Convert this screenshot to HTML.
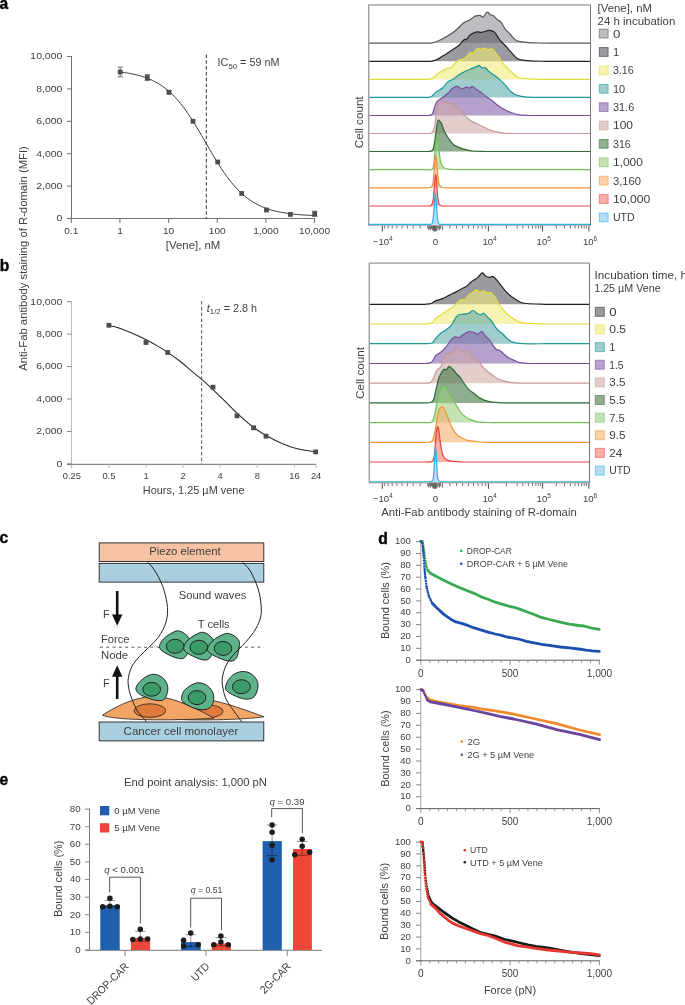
<!DOCTYPE html><html><head><meta charset="utf-8"><style>html,body{margin:0;padding:0;background:#fff;overflow:hidden}svg{display:block}text{font-family:"Liberation Sans",sans-serif}</style></head><body>
<svg width="685" height="1005" viewBox="0 0 685 1005" font-family="Liberation Sans, sans-serif" style="will-change:transform">
<rect width="685" height="1005" fill="#fff"/>
<text x="-0.40" y="8.80" font-size="15.6" font-weight="bold" fill="#000" style="stroke:#000;stroke-width:0.35">a</text>
<text x="-0.30" y="271.00" font-size="15.6" font-weight="bold" fill="#000" style="stroke:#000;stroke-width:0.35">b</text>
<text x="-0.50" y="542.80" font-size="15.6" font-weight="bold" fill="#000" style="stroke:#000;stroke-width:0.35">c</text>
<text x="378.30" y="543.70" font-size="15.6" font-weight="bold" fill="#000" style="stroke:#000;stroke-width:0.35">d</text>
<text x="-0.50" y="784.90" font-size="15.6" font-weight="bold" fill="#000" style="stroke:#000;stroke-width:0.35">e</text>
<text x="27.00" y="258.50" font-size="10.7" text-anchor="middle" textLength="224.60" lengthAdjust="spacingAndGlyphs" fill="#3e3e3e" transform="rotate(-90 27.00 258.50)">Anti-Fab antibody staining of R-domain (MFI)</text>
<line x1="71.50" y1="56.00" x2="71.50" y2="219.00" stroke="#6f6f6f" stroke-width="1" />
<line x1="67.00" y1="218.50" x2="71.50" y2="218.50" stroke="#6f6f6f" stroke-width="1" />
<text x="62.30" y="221.40" font-size="9.4" text-anchor="end" textLength="5.80" lengthAdjust="spacingAndGlyphs" fill="#3e3e3e">0</text>
<line x1="67.00" y1="186.10" x2="71.50" y2="186.10" stroke="#6f6f6f" stroke-width="1" />
<text x="62.30" y="189.00" font-size="9.4" text-anchor="end" textLength="26.11" lengthAdjust="spacingAndGlyphs" fill="#3e3e3e">2,000</text>
<line x1="67.00" y1="153.70" x2="71.50" y2="153.70" stroke="#6f6f6f" stroke-width="1" />
<text x="62.30" y="156.60" font-size="9.4" text-anchor="end" textLength="26.11" lengthAdjust="spacingAndGlyphs" fill="#3e3e3e">4,000</text>
<line x1="67.00" y1="121.30" x2="71.50" y2="121.30" stroke="#6f6f6f" stroke-width="1" />
<text x="62.30" y="124.20" font-size="9.4" text-anchor="end" textLength="26.11" lengthAdjust="spacingAndGlyphs" fill="#3e3e3e">6,000</text>
<line x1="67.00" y1="88.90" x2="71.50" y2="88.90" stroke="#6f6f6f" stroke-width="1" />
<text x="62.30" y="91.80" font-size="9.4" text-anchor="end" textLength="26.11" lengthAdjust="spacingAndGlyphs" fill="#3e3e3e">8,000</text>
<line x1="67.00" y1="56.50" x2="71.50" y2="56.50" stroke="#6f6f6f" stroke-width="1" />
<text x="62.30" y="59.40" font-size="9.4" text-anchor="end" textLength="31.91" lengthAdjust="spacingAndGlyphs" fill="#3e3e3e">10,000</text>
<line x1="71.50" y1="218.50" x2="315.00" y2="218.50" stroke="#6f6f6f" stroke-width="1" />
<line x1="71.30" y1="218.50" x2="71.30" y2="223.00" stroke="#6f6f6f" stroke-width="1" />
<text x="71.30" y="233.90" font-size="9.4" text-anchor="middle" textLength="14.11" lengthAdjust="spacingAndGlyphs" fill="#3e3e3e">0.1</text>
<line x1="119.95" y1="218.50" x2="119.95" y2="223.00" stroke="#6f6f6f" stroke-width="1" />
<text x="119.95" y="233.90" font-size="9.4" text-anchor="middle" textLength="5.65" lengthAdjust="spacingAndGlyphs" fill="#3e3e3e">1</text>
<line x1="168.60" y1="218.50" x2="168.60" y2="223.00" stroke="#6f6f6f" stroke-width="1" />
<text x="168.60" y="233.90" font-size="9.4" text-anchor="middle" textLength="11.29" lengthAdjust="spacingAndGlyphs" fill="#3e3e3e">10</text>
<line x1="217.25" y1="218.50" x2="217.25" y2="223.00" stroke="#6f6f6f" stroke-width="1" />
<text x="217.25" y="233.90" font-size="9.4" text-anchor="middle" textLength="16.94" lengthAdjust="spacingAndGlyphs" fill="#3e3e3e">100</text>
<line x1="265.90" y1="218.50" x2="265.90" y2="223.00" stroke="#6f6f6f" stroke-width="1" />
<text x="265.90" y="233.90" font-size="9.4" text-anchor="middle" textLength="25.40" lengthAdjust="spacingAndGlyphs" fill="#3e3e3e">1,000</text>
<line x1="314.55" y1="218.50" x2="314.55" y2="223.00" stroke="#6f6f6f" stroke-width="1" />
<text x="314.55" y="233.90" font-size="9.4" text-anchor="middle" textLength="31.05" lengthAdjust="spacingAndGlyphs" fill="#3e3e3e">10,000</text>
<text x="165.80" y="248.90" font-size="10.9" textLength="54.60" lengthAdjust="spacingAndGlyphs" fill="#3e3e3e">[Vene], nM</text>
<line x1="206.30" y1="54.50" x2="206.30" y2="218.50" stroke="#333" stroke-width="1" stroke-dasharray="3.6,2.2"/>
<text x="217.60" y="66.20" font-size="10.8" fill="#3e3e3e">IC<tspan font-size="7.8" dy="2.6">50</tspan><tspan dy="-2.6"> = 59 nM</tspan></text>
<polyline points="119.95,72.04 121.59,72.24 123.22,72.45 124.86,72.67 126.49,72.92 128.13,73.18 129.76,73.47 131.40,73.77 133.03,74.10 134.67,74.45 136.30,74.83 137.94,75.24 139.57,75.68 141.21,76.15 142.84,76.65 144.48,77.19 146.11,77.77 147.75,78.39 149.39,79.05 151.02,79.76 152.66,80.52 154.29,81.33 155.93,82.19 157.56,83.11 159.20,84.09 160.83,85.14 162.47,86.25 164.10,87.42 165.74,88.67 167.37,89.99 169.01,91.39 170.64,92.86 172.28,94.42 173.91,96.05 175.55,97.77 177.19,99.57 178.82,101.46 180.46,103.43 182.09,105.49 183.73,107.62 185.36,109.84 187.00,112.14 188.63,114.51 190.27,116.95 191.90,119.46 193.54,122.04 195.17,124.67 196.81,127.35 198.44,130.08 200.08,132.85 201.71,135.64 203.35,138.46 204.99,141.29 206.62,144.12 208.26,146.95 209.89,149.77 211.53,152.57 213.16,155.34 214.80,158.08 216.43,160.77 218.07,163.41 219.70,166.00 221.34,168.52 222.97,170.98 224.61,173.37 226.24,175.68 227.88,177.91 229.51,180.06 231.15,182.14 232.79,184.12 234.42,186.03 236.06,187.84 237.69,189.58 239.33,191.23 240.96,192.80 242.60,194.29 244.23,195.70 245.87,197.04 247.50,198.30 249.14,199.49 250.77,200.62 252.41,201.67 254.04,202.67 255.68,203.60 257.31,204.47 258.95,205.29 260.59,206.06 262.22,206.78 263.86,207.45 265.49,208.08 267.13,208.67 268.76,209.22 270.40,209.73 272.03,210.20 273.67,210.65 275.30,211.06 276.94,211.44 278.57,211.80 280.21,212.13 281.84,212.44 283.48,212.73 285.11,213.00 286.75,213.25 288.39,213.48 290.02,213.69 291.66,213.89 293.29,214.08 294.93,214.25 296.56,214.41 298.20,214.55 299.83,214.69 301.47,214.82 303.10,214.94 304.74,215.04 306.37,215.15 308.01,215.24 309.64,215.33 311.28,215.41 312.91,215.48 314.55,215.55" fill="none" stroke="#3a3a3a" stroke-width="1.0" />
<line x1="120.20" y1="67.20" x2="120.20" y2="76.80" stroke="#555" stroke-width="0.8" />
<line x1="117.40" y1="67.20" x2="123.00" y2="67.20" stroke="#555" stroke-width="0.8" />
<line x1="117.40" y1="76.80" x2="123.00" y2="76.80" stroke="#555" stroke-width="0.8" />
<line x1="147.30" y1="74.60" x2="147.30" y2="80.60" stroke="#555" stroke-width="0.8" />
<line x1="144.50" y1="74.60" x2="150.10" y2="74.60" stroke="#555" stroke-width="0.8" />
<line x1="144.50" y1="80.60" x2="150.10" y2="80.60" stroke="#555" stroke-width="0.8" />
<line x1="169.00" y1="90.80" x2="169.00" y2="93.80" stroke="#555" stroke-width="0.8" />
<line x1="166.20" y1="90.80" x2="171.80" y2="90.80" stroke="#555" stroke-width="0.8" />
<line x1="166.20" y1="93.80" x2="171.80" y2="93.80" stroke="#555" stroke-width="0.8" />
<line x1="314.70" y1="211.20" x2="314.70" y2="216.40" stroke="#555" stroke-width="0.8" />
<line x1="311.90" y1="211.20" x2="317.50" y2="211.20" stroke="#555" stroke-width="0.8" />
<line x1="311.90" y1="216.40" x2="317.50" y2="216.40" stroke="#555" stroke-width="0.8" />
<rect x="117.80" y="69.60" width="4.8" height="4.8" fill="#4d4d4f"/>
<rect x="144.90" y="75.20" width="4.8" height="4.8" fill="#4d4d4f"/>
<rect x="166.60" y="89.90" width="4.8" height="4.8" fill="#4d4d4f"/>
<rect x="190.60" y="118.90" width="4.8" height="4.8" fill="#4d4d4f"/>
<rect x="215.30" y="159.60" width="4.8" height="4.8" fill="#4d4d4f"/>
<rect x="239.30" y="191.10" width="4.8" height="4.8" fill="#4d4d4f"/>
<rect x="264.10" y="207.60" width="4.8" height="4.8" fill="#4d4d4f"/>
<rect x="288.00" y="212.00" width="4.8" height="4.8" fill="#4d4d4f"/>
<rect x="312.30" y="211.40" width="4.8" height="4.8" fill="#4d4d4f"/>
<line x1="71.50" y1="301.30" x2="71.50" y2="468.50" stroke="#bdbdbd" stroke-width="1" />
<line x1="67.00" y1="464.00" x2="71.50" y2="464.00" stroke="#777" stroke-width="1" />
<text x="62.30" y="466.90" font-size="9.4" text-anchor="end" textLength="5.80" lengthAdjust="spacingAndGlyphs" fill="#3e3e3e">0</text>
<line x1="67.00" y1="431.52" x2="71.50" y2="431.52" stroke="#8a8a8a" stroke-width="1" />
<text x="62.30" y="434.42" font-size="9.4" text-anchor="end" textLength="26.11" lengthAdjust="spacingAndGlyphs" fill="#3e3e3e">2,000</text>
<line x1="67.00" y1="399.04" x2="71.50" y2="399.04" stroke="#8a8a8a" stroke-width="1" />
<text x="62.30" y="401.94" font-size="9.4" text-anchor="end" textLength="26.11" lengthAdjust="spacingAndGlyphs" fill="#3e3e3e">4,000</text>
<line x1="67.00" y1="366.56" x2="71.50" y2="366.56" stroke="#8a8a8a" stroke-width="1" />
<text x="62.30" y="369.46" font-size="9.4" text-anchor="end" textLength="26.11" lengthAdjust="spacingAndGlyphs" fill="#3e3e3e">6,000</text>
<line x1="67.00" y1="334.08" x2="71.50" y2="334.08" stroke="#8a8a8a" stroke-width="1" />
<text x="62.30" y="336.98" font-size="9.4" text-anchor="end" textLength="26.11" lengthAdjust="spacingAndGlyphs" fill="#3e3e3e">8,000</text>
<line x1="67.00" y1="301.60" x2="71.50" y2="301.60" stroke="#8a8a8a" stroke-width="1" />
<text x="62.30" y="304.50" font-size="9.4" text-anchor="end" textLength="31.91" lengthAdjust="spacingAndGlyphs" fill="#3e3e3e">10,000</text>
<line x1="67.00" y1="464.30" x2="316.20" y2="464.30" stroke="#6a6a6a" stroke-width="1" />
<line x1="71.80" y1="464.50" x2="71.80" y2="468.00" stroke="#bdbdbd" stroke-width="1" />
<text x="71.80" y="478.80" font-size="9.4" text-anchor="middle" fill="#3e3e3e">0.25</text>
<line x1="108.90" y1="464.50" x2="108.90" y2="468.00" stroke="#bdbdbd" stroke-width="1" />
<text x="108.90" y="478.80" font-size="9.4" text-anchor="middle" fill="#3e3e3e">0.5</text>
<line x1="146.00" y1="464.50" x2="146.00" y2="468.00" stroke="#bdbdbd" stroke-width="1" />
<text x="146.00" y="478.80" font-size="9.4" text-anchor="middle" fill="#3e3e3e">1</text>
<line x1="183.10" y1="464.50" x2="183.10" y2="468.00" stroke="#bdbdbd" stroke-width="1" />
<text x="183.10" y="478.80" font-size="9.4" text-anchor="middle" fill="#3e3e3e">2</text>
<line x1="220.20" y1="464.50" x2="220.20" y2="468.00" stroke="#bdbdbd" stroke-width="1" />
<text x="220.20" y="478.80" font-size="9.4" text-anchor="middle" fill="#3e3e3e">4</text>
<line x1="257.30" y1="464.50" x2="257.30" y2="468.00" stroke="#bdbdbd" stroke-width="1" />
<text x="257.30" y="478.80" font-size="9.4" text-anchor="middle" fill="#3e3e3e">8</text>
<line x1="294.40" y1="464.50" x2="294.40" y2="468.00" stroke="#bdbdbd" stroke-width="1" />
<text x="294.40" y="478.80" font-size="9.4" text-anchor="middle" fill="#3e3e3e">16</text>
<line x1="316.10" y1="464.50" x2="316.10" y2="468.00" stroke="#bdbdbd" stroke-width="1" />
<text x="316.10" y="479.30" font-size="9.4" text-anchor="middle" fill="#3e3e3e">24</text>
<text x="142.80" y="494.20" font-size="10.9" textLength="101.70" lengthAdjust="spacingAndGlyphs" fill="#3e3e3e">Hours, 1.25 µM vene</text>
<line x1="201.60" y1="301.00" x2="201.60" y2="464.00" stroke="#666" stroke-width="1.1" stroke-dasharray="3.6,2.2"/>
<text x="206.80" y="311.50" font-size="10.8" fill="#3e3e3e"><tspan font-style="italic">t</tspan><tspan font-size="7.8" dy="2.6">1/2</tspan><tspan dy="-2.6"> = 2.8 h</tspan></text>
<path d="M108.90,325.30 C110.33,325.68 114.12,326.50 117.50,327.60 C120.88,328.70 125.70,330.50 129.20,331.90 C132.70,333.30 135.58,334.63 138.50,336.00 C141.42,337.37 143.77,338.58 146.70,340.10 C149.63,341.62 152.60,343.05 156.10,345.10 C159.60,347.15 163.77,349.75 167.70,352.40 C171.63,355.05 175.50,357.70 179.70,361.00 C183.90,364.30 189.22,369.13 192.90,372.20 C196.58,375.27 198.52,376.55 201.80,379.40 C205.08,382.25 208.62,385.57 212.60,389.30 C216.58,393.03 221.55,397.75 225.70,401.80 C229.85,405.85 232.85,409.32 237.50,413.60 C242.15,417.88 248.85,423.85 253.60,427.50 C258.35,431.15 261.27,432.85 266.00,435.50 C270.73,438.15 276.95,441.23 282.00,443.40 C287.05,445.57 290.68,447.08 296.30,448.50 C301.92,449.92 312.47,451.33 315.70,451.90" fill="none" stroke="#2a2a2a" stroke-width="1.1"/>
<rect x="106.50" y="322.90" width="4.8" height="4.8" fill="#4d4d4f"/>
<rect x="143.60" y="340.10" width="4.8" height="4.8" fill="#4d4d4f"/>
<rect x="165.30" y="350.10" width="4.8" height="4.8" fill="#4d4d4f"/>
<rect x="210.60" y="384.80" width="4.8" height="4.8" fill="#4d4d4f"/>
<rect x="234.60" y="413.40" width="4.8" height="4.8" fill="#4d4d4f"/>
<rect x="251.20" y="425.40" width="4.8" height="4.8" fill="#4d4d4f"/>
<rect x="263.60" y="433.80" width="4.8" height="4.8" fill="#4d4d4f"/>
<rect x="313.30" y="449.50" width="4.8" height="4.8" fill="#4d4d4f"/>
<rect x="368.8" y="4.9" width="221.70" height="220.4" fill="none" stroke="#777" stroke-width="1"/>
<line x1="368.8" y1="4.9" x2="590.5" y2="4.9" stroke="#bbb" stroke-width="1.2"/>
<path d="M430.50,43.10 C431.58,42.83 434.37,42.55 437.00,41.50 C439.63,40.45 443.30,38.55 446.30,36.80 C449.30,35.05 452.13,33.28 455.00,31.00 C457.87,28.72 461.20,24.85 463.50,23.10 C465.80,21.35 467.20,21.45 468.80,20.50 C470.40,19.55 472.02,18.13 473.10,17.40 C474.18,16.67 474.20,16.43 475.30,16.10 C476.40,15.77 478.38,15.25 479.70,15.40 C481.02,15.55 482.10,17.47 483.20,17.00 C484.30,16.53 485.50,13.40 486.30,12.60 C487.10,11.80 487.35,11.83 488.00,12.20 C488.65,12.57 489.32,14.22 490.20,14.80 C491.08,15.38 492.20,14.97 493.30,15.70 C494.40,16.43 495.57,18.18 496.80,19.20 C498.03,20.22 499.68,20.78 500.70,21.80 C501.72,22.82 502.10,23.98 502.90,25.30 C503.70,26.62 504.48,28.45 505.50,29.70 C506.52,30.95 507.83,31.57 509.00,32.80 C510.17,34.03 511.33,35.87 512.50,37.10 C513.67,38.33 514.75,39.45 516.00,40.20 C517.25,40.95 518.00,41.20 520.00,41.60 C522.00,42.00 524.67,42.37 528.00,42.60 C531.33,42.83 535.50,42.92 540.00,43.00 C544.50,43.08 552.50,43.08 555.00,43.10 Z" fill="rgb(143,145,150)" fill-opacity="0.6" stroke="none"/>
<path d="M369.30,43.10 L430.50,43.10 C431.58,42.83 434.37,42.55 437.00,41.50 C439.63,40.45 443.30,38.55 446.30,36.80 C449.30,35.05 452.13,33.28 455.00,31.00 C457.87,28.72 461.20,24.85 463.50,23.10 C465.80,21.35 467.20,21.45 468.80,20.50 C470.40,19.55 472.02,18.13 473.10,17.40 C474.18,16.67 474.20,16.43 475.30,16.10 C476.40,15.77 478.38,15.25 479.70,15.40 C481.02,15.55 482.10,17.47 483.20,17.00 C484.30,16.53 485.50,13.40 486.30,12.60 C487.10,11.80 487.35,11.83 488.00,12.20 C488.65,12.57 489.32,14.22 490.20,14.80 C491.08,15.38 492.20,14.97 493.30,15.70 C494.40,16.43 495.57,18.18 496.80,19.20 C498.03,20.22 499.68,20.78 500.70,21.80 C501.72,22.82 502.10,23.98 502.90,25.30 C503.70,26.62 504.48,28.45 505.50,29.70 C506.52,30.95 507.83,31.57 509.00,32.80 C510.17,34.03 511.33,35.87 512.50,37.10 C513.67,38.33 514.75,39.45 516.00,40.20 C517.25,40.95 518.00,41.20 520.00,41.60 C522.00,42.00 524.67,42.37 528.00,42.60 C531.33,42.83 535.50,42.92 540.00,43.00 C544.50,43.08 552.50,43.08 555.00,43.10 L590.00,43.10" fill="none" stroke="#555555" stroke-width="1.2" stroke-linejoin="round"/>
<path d="M430.50,61.30 C431.58,61.02 434.37,60.83 437.00,59.60 C439.63,58.37 443.80,55.50 446.30,53.90 C448.80,52.30 449.82,51.48 452.00,50.00 C454.18,48.52 457.48,46.63 459.40,45.00 C461.32,43.37 462.23,41.22 463.50,40.20 C464.77,39.18 465.98,39.70 467.00,38.90 C468.02,38.10 468.43,36.42 469.60,35.40 C470.77,34.38 472.68,33.38 474.00,32.80 C475.32,32.22 476.18,31.98 477.50,31.90 C478.82,31.82 480.43,32.45 481.90,32.30 C483.37,32.15 484.98,31.33 486.30,31.00 C487.62,30.67 488.48,30.15 489.80,30.30 C491.12,30.45 493.03,31.05 494.20,31.90 C495.37,32.75 495.78,33.95 496.80,35.40 C497.82,36.85 498.98,39.00 500.30,40.60 C501.62,42.20 503.25,43.47 504.70,45.00 C506.15,46.53 507.55,48.18 509.00,49.80 C510.45,51.42 512.08,53.30 513.40,54.70 C514.72,56.10 515.63,57.33 516.90,58.20 C518.17,59.07 518.82,59.45 521.00,59.90 C523.18,60.35 526.00,60.67 530.00,60.90 C534.00,61.13 542.50,61.23 545.00,61.30 Z" fill="rgb(87,88,97)" fill-opacity="0.6" stroke="none"/>
<path d="M369.30,61.30 L430.50,61.30 C431.58,61.02 434.37,60.83 437.00,59.60 C439.63,58.37 443.80,55.50 446.30,53.90 C448.80,52.30 449.82,51.48 452.00,50.00 C454.18,48.52 457.48,46.63 459.40,45.00 C461.32,43.37 462.23,41.22 463.50,40.20 C464.77,39.18 465.98,39.70 467.00,38.90 C468.02,38.10 468.43,36.42 469.60,35.40 C470.77,34.38 472.68,33.38 474.00,32.80 C475.32,32.22 476.18,31.98 477.50,31.90 C478.82,31.82 480.43,32.45 481.90,32.30 C483.37,32.15 484.98,31.33 486.30,31.00 C487.62,30.67 488.48,30.15 489.80,30.30 C491.12,30.45 493.03,31.05 494.20,31.90 C495.37,32.75 495.78,33.95 496.80,35.40 C497.82,36.85 498.98,39.00 500.30,40.60 C501.62,42.20 503.25,43.47 504.70,45.00 C506.15,46.53 507.55,48.18 509.00,49.80 C510.45,51.42 512.08,53.30 513.40,54.70 C514.72,56.10 515.63,57.33 516.90,58.20 C518.17,59.07 518.82,59.45 521.00,59.90 C523.18,60.35 526.00,60.67 530.00,60.90 C534.00,61.13 542.50,61.23 545.00,61.30 L590.00,61.30" fill="none" stroke="#222222" stroke-width="1.2" stroke-linejoin="round"/>
<path d="M429.50,79.40 C430.08,79.17 431.42,79.05 433.00,78.00 C434.58,76.95 436.83,74.63 439.00,73.10 C441.17,71.57 443.95,69.75 446.00,68.80 C448.05,67.85 449.83,68.28 451.30,67.40 C452.77,66.52 453.48,64.75 454.80,63.50 C456.12,62.25 457.60,60.72 459.20,59.90 C460.80,59.08 462.67,59.77 464.40,58.60 C466.13,57.43 468.15,53.85 469.60,52.90 C471.05,51.95 471.78,53.63 473.10,52.90 C474.42,52.17 476.18,49.08 477.50,48.50 C478.82,47.92 479.83,49.47 481.00,49.40 C482.17,49.33 483.33,48.10 484.50,48.10 C485.67,48.10 486.68,49.25 488.00,49.40 C489.32,49.55 491.23,48.57 492.40,49.00 C493.57,49.43 493.98,50.77 495.00,52.00 C496.02,53.23 497.18,54.50 498.50,56.40 C499.82,58.30 501.65,61.72 502.90,63.40 C504.15,65.08 504.97,65.47 506.00,66.50 C507.03,67.53 507.72,68.20 509.10,69.60 C510.48,71.00 512.55,73.58 514.30,74.90 C516.05,76.22 516.97,76.83 519.60,77.50 C522.23,78.17 525.87,78.58 530.10,78.90 C534.33,79.22 542.52,79.32 545.00,79.40 Z" fill="rgb(240,235,123)" fill-opacity="0.6" stroke="none"/>
<path d="M369.30,79.40 L429.50,79.40 C430.08,79.17 431.42,79.05 433.00,78.00 C434.58,76.95 436.83,74.63 439.00,73.10 C441.17,71.57 443.95,69.75 446.00,68.80 C448.05,67.85 449.83,68.28 451.30,67.40 C452.77,66.52 453.48,64.75 454.80,63.50 C456.12,62.25 457.60,60.72 459.20,59.90 C460.80,59.08 462.67,59.77 464.40,58.60 C466.13,57.43 468.15,53.85 469.60,52.90 C471.05,51.95 471.78,53.63 473.10,52.90 C474.42,52.17 476.18,49.08 477.50,48.50 C478.82,47.92 479.83,49.47 481.00,49.40 C482.17,49.33 483.33,48.10 484.50,48.10 C485.67,48.10 486.68,49.25 488.00,49.40 C489.32,49.55 491.23,48.57 492.40,49.00 C493.57,49.43 493.98,50.77 495.00,52.00 C496.02,53.23 497.18,54.50 498.50,56.40 C499.82,58.30 501.65,61.72 502.90,63.40 C504.15,65.08 504.97,65.47 506.00,66.50 C507.03,67.53 507.72,68.20 509.10,69.60 C510.48,71.00 512.55,73.58 514.30,74.90 C516.05,76.22 516.97,76.83 519.60,77.50 C522.23,78.17 525.87,78.58 530.10,78.90 C534.33,79.22 542.52,79.32 545.00,79.40 L590.00,79.40" fill="none" stroke="#e4dc38" stroke-width="1.2" stroke-linejoin="round"/>
<path d="M428.00,97.40 C428.58,97.27 430.25,97.43 431.50,96.60 C432.75,95.77 433.67,93.83 435.50,92.40 C437.33,90.97 440.45,89.75 442.50,88.00 C444.55,86.25 446.05,83.35 447.80,81.90 C449.55,80.45 451.40,80.32 453.00,79.30 C454.60,78.28 455.93,76.83 457.40,75.80 C458.87,74.77 460.20,73.98 461.80,73.10 C463.40,72.22 465.25,71.28 467.00,70.50 C468.75,69.72 470.53,69.13 472.30,68.40 C474.07,67.67 476.43,66.62 477.60,66.10 C478.77,65.58 478.58,65.00 479.30,65.30 C480.02,65.60 480.88,67.47 481.90,67.90 C482.92,68.33 484.08,67.17 485.40,67.90 C486.72,68.63 488.18,70.98 489.80,72.30 C491.42,73.62 493.35,74.50 495.10,75.80 C496.85,77.10 498.55,78.50 500.30,80.10 C502.05,81.70 503.85,83.50 505.60,85.40 C507.35,87.30 509.05,89.90 510.80,91.50 C512.55,93.10 513.75,94.12 516.10,95.00 C518.45,95.88 520.08,96.40 524.90,96.80 C529.72,97.20 541.65,97.30 545.00,97.40 Z" fill="rgb(95,170,170)" fill-opacity="0.6" stroke="none"/>
<path d="M369.30,97.40 L428.00,97.40 C428.58,97.27 430.25,97.43 431.50,96.60 C432.75,95.77 433.67,93.83 435.50,92.40 C437.33,90.97 440.45,89.75 442.50,88.00 C444.55,86.25 446.05,83.35 447.80,81.90 C449.55,80.45 451.40,80.32 453.00,79.30 C454.60,78.28 455.93,76.83 457.40,75.80 C458.87,74.77 460.20,73.98 461.80,73.10 C463.40,72.22 465.25,71.28 467.00,70.50 C468.75,69.72 470.53,69.13 472.30,68.40 C474.07,67.67 476.43,66.62 477.60,66.10 C478.77,65.58 478.58,65.00 479.30,65.30 C480.02,65.60 480.88,67.47 481.90,67.90 C482.92,68.33 484.08,67.17 485.40,67.90 C486.72,68.63 488.18,70.98 489.80,72.30 C491.42,73.62 493.35,74.50 495.10,75.80 C496.85,77.10 498.55,78.50 500.30,80.10 C502.05,81.70 503.85,83.50 505.60,85.40 C507.35,87.30 509.05,89.90 510.80,91.50 C512.55,93.10 513.75,94.12 516.10,95.00 C518.45,95.88 520.08,96.40 524.90,96.80 C529.72,97.20 541.65,97.30 545.00,97.40 L590.00,97.40" fill="none" stroke="#1a9898" stroke-width="1.2" stroke-linejoin="round"/>
<path d="M428.00,115.50 C428.67,115.30 430.90,115.67 432.00,114.30 C433.10,112.93 433.72,109.48 434.60,107.30 C435.48,105.12 435.98,102.80 437.30,101.20 C438.62,99.60 440.75,99.02 442.50,97.70 C444.25,96.38 446.05,94.92 447.80,93.30 C449.55,91.68 451.40,89.17 453.00,88.00 C454.60,86.83 455.93,86.15 457.40,86.30 C458.87,86.45 460.33,88.75 461.80,88.90 C463.27,89.05 464.88,87.35 466.20,87.20 C467.52,87.05 468.68,88.15 469.70,88.00 C470.72,87.85 471.28,86.15 472.30,86.30 C473.32,86.45 474.33,87.88 475.80,88.90 C477.27,89.92 479.35,91.08 481.10,92.40 C482.85,93.72 484.55,95.48 486.30,96.80 C488.05,98.12 489.85,98.98 491.60,100.30 C493.35,101.62 495.05,103.38 496.80,104.70 C498.55,106.02 500.05,107.03 502.10,108.20 C504.15,109.37 506.47,110.62 509.10,111.70 C511.73,112.78 514.40,114.07 517.90,114.70 C521.40,115.33 528.07,115.37 530.10,115.50 Z" fill="rgb(133,97,170)" fill-opacity="0.6" stroke="none"/>
<path d="M369.30,115.50 L428.00,115.50 C428.67,115.30 430.90,115.67 432.00,114.30 C433.10,112.93 433.72,109.48 434.60,107.30 C435.48,105.12 435.98,102.80 437.30,101.20 C438.62,99.60 440.75,99.02 442.50,97.70 C444.25,96.38 446.05,94.92 447.80,93.30 C449.55,91.68 451.40,89.17 453.00,88.00 C454.60,86.83 455.93,86.15 457.40,86.30 C458.87,86.45 460.33,88.75 461.80,88.90 C463.27,89.05 464.88,87.35 466.20,87.20 C467.52,87.05 468.68,88.15 469.70,88.00 C470.72,87.85 471.28,86.15 472.30,86.30 C473.32,86.45 474.33,87.88 475.80,88.90 C477.27,89.92 479.35,91.08 481.10,92.40 C482.85,93.72 484.55,95.48 486.30,96.80 C488.05,98.12 489.85,98.98 491.60,100.30 C493.35,101.62 495.05,103.38 496.80,104.70 C498.55,106.02 500.05,107.03 502.10,108.20 C504.15,109.37 506.47,110.62 509.10,111.70 C511.73,112.78 514.40,114.07 517.90,114.70 C521.40,115.33 528.07,115.37 530.10,115.50 L590.00,115.50" fill="none" stroke="#7a4e9d" stroke-width="1.2" stroke-linejoin="round"/>
<path d="M428.00,133.50 C428.67,133.37 430.90,133.85 432.00,132.70 C433.10,131.55 433.87,129.95 434.60,126.60 C435.33,123.25 435.82,116.25 436.40,112.60 C436.98,108.95 437.37,106.47 438.10,104.70 C438.83,102.93 439.48,102.38 440.80,102.00 C442.12,101.62 444.55,102.10 446.00,102.40 C447.45,102.70 448.62,103.72 449.50,103.80 C450.38,103.88 450.42,102.55 451.30,102.90 C452.18,103.25 453.35,104.73 454.80,105.90 C456.25,107.07 458.25,108.20 460.00,109.90 C461.75,111.60 463.55,114.35 465.30,116.10 C467.05,117.85 468.75,119.23 470.50,120.40 C472.25,121.57 474.03,122.22 475.80,123.10 C477.57,123.98 479.05,124.68 481.10,125.70 C483.15,126.72 485.77,128.23 488.10,129.20 C490.43,130.17 492.48,130.83 495.10,131.50 C497.72,132.17 500.30,132.87 503.80,133.20 C507.30,133.53 514.05,133.45 516.10,133.50 Z" fill="rgb(207,170,170)" fill-opacity="0.6" stroke="none"/>
<path d="M369.30,133.50 L428.00,133.50 C428.67,133.37 430.90,133.85 432.00,132.70 C433.10,131.55 433.87,129.95 434.60,126.60 C435.33,123.25 435.82,116.25 436.40,112.60 C436.98,108.95 437.37,106.47 438.10,104.70 C438.83,102.93 439.48,102.38 440.80,102.00 C442.12,101.62 444.55,102.10 446.00,102.40 C447.45,102.70 448.62,103.72 449.50,103.80 C450.38,103.88 450.42,102.55 451.30,102.90 C452.18,103.25 453.35,104.73 454.80,105.90 C456.25,107.07 458.25,108.20 460.00,109.90 C461.75,111.60 463.55,114.35 465.30,116.10 C467.05,117.85 468.75,119.23 470.50,120.40 C472.25,121.57 474.03,122.22 475.80,123.10 C477.57,123.98 479.05,124.68 481.10,125.70 C483.15,126.72 485.77,128.23 488.10,129.20 C490.43,130.17 492.48,130.83 495.10,131.50 C497.72,132.17 500.30,132.87 503.80,133.20 C507.30,133.53 514.05,133.45 516.10,133.50 L590.00,133.50" fill="none" stroke="#c99898" stroke-width="1.2" stroke-linejoin="round"/>
<path d="M428.00,151.50 C428.45,151.43 429.87,151.45 430.70,151.10 C431.53,150.75 432.33,151.03 433.00,149.40 C433.67,147.77 434.12,144.75 434.70,141.30 C435.28,137.85 436.02,131.93 436.50,128.70 C436.98,125.47 437.27,123.32 437.60,121.90 C437.93,120.48 438.12,120.30 438.50,120.20 C438.88,120.10 439.38,120.73 439.90,121.30 C440.42,121.87 441.03,122.37 441.60,123.60 C442.17,124.83 442.63,126.98 443.30,128.70 C443.97,130.42 444.65,132.18 445.60,133.90 C446.55,135.62 447.67,137.18 449.00,139.00 C450.33,140.82 451.87,143.37 453.60,144.80 C455.33,146.23 457.48,146.83 459.40,147.60 C461.32,148.37 462.82,148.83 465.10,149.40 C467.38,149.97 469.78,150.65 473.10,151.00 C476.42,151.35 483.02,151.42 485.00,151.50 Z" fill="rgb(68,118,68)" fill-opacity="0.6" stroke="none"/>
<path d="M369.30,151.50 L428.00,151.50 C428.45,151.43 429.87,151.45 430.70,151.10 C431.53,150.75 432.33,151.03 433.00,149.40 C433.67,147.77 434.12,144.75 434.70,141.30 C435.28,137.85 436.02,131.93 436.50,128.70 C436.98,125.47 437.27,123.32 437.60,121.90 C437.93,120.48 438.12,120.30 438.50,120.20 C438.88,120.10 439.38,120.73 439.90,121.30 C440.42,121.87 441.03,122.37 441.60,123.60 C442.17,124.83 442.63,126.98 443.30,128.70 C443.97,130.42 444.65,132.18 445.60,133.90 C446.55,135.62 447.67,137.18 449.00,139.00 C450.33,140.82 451.87,143.37 453.60,144.80 C455.33,146.23 457.48,146.83 459.40,147.60 C461.32,148.37 462.82,148.83 465.10,149.40 C467.38,149.97 469.78,150.65 473.10,151.00 C476.42,151.35 483.02,151.42 485.00,151.50 L590.00,151.50" fill="none" stroke="#2e6a34" stroke-width="1.2" stroke-linejoin="round"/>
<path d="M428.00,169.70 C428.65,169.65 430.97,170.12 431.90,169.40 C432.83,168.68 433.13,167.78 433.60,165.40 C434.07,163.02 434.32,158.73 434.70,155.10 C435.08,151.47 435.52,146.65 435.90,143.60 C436.28,140.55 436.62,137.18 437.00,136.80 C437.38,136.42 437.82,138.63 438.20,141.30 C438.58,143.97 438.83,149.17 439.30,152.80 C439.77,156.43 440.33,160.72 441.00,163.10 C441.67,165.48 442.15,166.08 443.30,167.10 C444.45,168.12 445.78,168.77 447.90,169.20 C450.02,169.63 454.65,169.62 456.00,169.70 Z" fill="rgb(157,207,130)" fill-opacity="0.6" stroke="none"/>
<path d="M369.30,169.70 L428.00,169.70 C428.65,169.65 430.97,170.12 431.90,169.40 C432.83,168.68 433.13,167.78 433.60,165.40 C434.07,163.02 434.32,158.73 434.70,155.10 C435.08,151.47 435.52,146.65 435.90,143.60 C436.28,140.55 436.62,137.18 437.00,136.80 C437.38,136.42 437.82,138.63 438.20,141.30 C438.58,143.97 438.83,149.17 439.30,152.80 C439.77,156.43 440.33,160.72 441.00,163.10 C441.67,165.48 442.15,166.08 443.30,167.10 C444.45,168.12 445.78,168.77 447.90,169.20 C450.02,169.63 454.65,169.62 456.00,169.70 L590.00,169.70" fill="none" stroke="#74c059" stroke-width="1.2" stroke-linejoin="round"/>
<path d="M428.00,187.80 C428.55,187.68 430.47,187.97 431.30,187.10 C432.13,186.23 432.52,185.45 433.00,182.60 C433.48,179.75 433.82,174.20 434.20,170.00 C434.58,165.80 434.97,159.47 435.30,157.40 C435.63,155.33 435.85,155.50 436.20,157.60 C436.55,159.70 436.98,165.83 437.40,170.00 C437.82,174.17 438.10,179.75 438.70,182.60 C439.30,185.45 439.78,186.23 441.00,187.10 C442.22,187.97 445.17,187.68 446.00,187.80 Z" fill="rgb(247,177,110)" fill-opacity="0.6" stroke="none"/>
<path d="M369.30,187.80 L428.00,187.80 C428.55,187.68 430.47,187.97 431.30,187.10 C432.13,186.23 432.52,185.45 433.00,182.60 C433.48,179.75 433.82,174.20 434.20,170.00 C434.58,165.80 434.97,159.47 435.30,157.40 C435.63,155.33 435.85,155.50 436.20,157.60 C436.55,159.70 436.98,165.83 437.40,170.00 C437.82,174.17 438.10,179.75 438.70,182.60 C439.30,185.45 439.78,186.23 441.00,187.10 C442.22,187.97 445.17,187.68 446.00,187.80 L590.00,187.80" fill="none" stroke="#f29238" stroke-width="1.2" stroke-linejoin="round"/>
<path d="M428.00,206.00 C428.55,205.92 430.47,206.35 431.30,205.50 C432.13,204.65 432.52,203.77 433.00,200.90 C433.48,198.03 433.82,192.40 434.20,188.30 C434.58,184.20 434.97,178.25 435.30,176.30 C435.63,174.35 435.85,173.83 436.20,176.60 C436.55,179.37 436.98,188.47 437.40,192.90 C437.82,197.33 438.10,201.05 438.70,203.20 C439.30,205.35 439.78,205.33 441.00,205.80 C442.22,206.27 445.17,205.97 446.00,206.00 Z" fill="rgb(240,123,110)" fill-opacity="0.6" stroke="none"/>
<path d="M369.30,206.00 L428.00,206.00 C428.55,205.92 430.47,206.35 431.30,205.50 C432.13,204.65 432.52,203.77 433.00,200.90 C433.48,198.03 433.82,192.40 434.20,188.30 C434.58,184.20 434.97,178.25 435.30,176.30 C435.63,174.35 435.85,173.83 436.20,176.60 C436.55,179.37 436.98,188.47 437.40,192.90 C437.82,197.33 438.10,201.05 438.70,203.20 C439.30,205.35 439.78,205.33 441.00,205.80 C442.22,206.27 445.17,205.97 446.00,206.00 L590.00,206.00" fill="none" stroke="#ec4242" stroke-width="1.2" stroke-linejoin="round"/>
<path d="M428.00,224.30 C428.65,224.22 431.03,224.83 431.90,223.80 C432.77,222.77 432.78,221.35 433.20,218.10 C433.62,214.85 434.05,208.42 434.40,204.30 C434.75,200.18 435.00,193.78 435.30,193.40 C435.60,193.02 435.85,198.08 436.20,202.00 C436.55,205.92 436.98,213.27 437.40,216.90 C437.82,220.53 437.93,222.57 438.70,223.80 C439.47,225.03 441.45,224.22 442.00,224.30 Z" fill="rgb(130,197,233)" fill-opacity="0.6" stroke="none"/>
<path d="M369.30,224.30 L428.00,224.30 C428.65,224.22 431.03,224.83 431.90,223.80 C432.77,222.77 432.78,221.35 433.20,218.10 C433.62,214.85 434.05,208.42 434.40,204.30 C434.75,200.18 435.00,193.78 435.30,193.40 C435.60,193.02 435.85,198.08 436.20,202.00 C436.55,205.92 436.98,213.27 437.40,216.90 C437.82,220.53 437.93,222.57 438.70,223.80 C439.47,225.03 441.45,224.22 442.00,224.30 L590.00,224.30" fill="none" stroke="#2db3e6" stroke-width="1.2" stroke-linejoin="round"/>
<line x1="368.80" y1="225.50" x2="590.50" y2="225.50" stroke="#bdb8b8" stroke-width="1.0" />
<line x1="382.30" y1="225.80" x2="382.30" y2="231.40" stroke="#333" stroke-width="0.9" />
<line x1="435.30" y1="225.80" x2="435.30" y2="231.40" stroke="#333" stroke-width="0.9" />
<line x1="488.40" y1="225.80" x2="488.40" y2="231.40" stroke="#333" stroke-width="0.9" />
<line x1="542.60" y1="225.80" x2="542.60" y2="231.40" stroke="#333" stroke-width="0.9" />
<line x1="588.90" y1="225.80" x2="588.90" y2="231.40" stroke="#333" stroke-width="0.9" />
<line x1="384.60" y1="225.80" x2="384.60" y2="228.60" stroke="#444" stroke-width="0.75" />
<line x1="388.10" y1="225.80" x2="388.10" y2="228.60" stroke="#444" stroke-width="0.75" />
<line x1="392.20" y1="225.80" x2="392.20" y2="228.60" stroke="#444" stroke-width="0.75" />
<line x1="396.90" y1="225.80" x2="396.90" y2="228.60" stroke="#444" stroke-width="0.75" />
<line x1="402.10" y1="225.80" x2="402.10" y2="228.60" stroke="#444" stroke-width="0.75" />
<line x1="407.40" y1="225.80" x2="407.40" y2="228.60" stroke="#444" stroke-width="0.75" />
<line x1="413.20" y1="225.80" x2="413.20" y2="228.60" stroke="#444" stroke-width="0.75" />
<line x1="420.20" y1="225.80" x2="420.20" y2="228.60" stroke="#444" stroke-width="0.75" />
<line x1="449.90" y1="225.80" x2="449.90" y2="228.60" stroke="#444" stroke-width="0.75" />
<line x1="456.60" y1="225.80" x2="456.60" y2="228.60" stroke="#444" stroke-width="0.75" />
<line x1="462.60" y1="225.80" x2="462.60" y2="228.60" stroke="#444" stroke-width="0.75" />
<line x1="468.40" y1="225.80" x2="468.40" y2="228.60" stroke="#444" stroke-width="0.75" />
<line x1="473.50" y1="225.80" x2="473.50" y2="228.60" stroke="#444" stroke-width="0.75" />
<line x1="478.10" y1="225.80" x2="478.10" y2="228.60" stroke="#444" stroke-width="0.75" />
<line x1="482.10" y1="225.80" x2="482.10" y2="228.60" stroke="#444" stroke-width="0.75" />
<line x1="485.60" y1="225.80" x2="485.60" y2="228.60" stroke="#444" stroke-width="0.75" />
<line x1="506.50" y1="225.80" x2="506.50" y2="228.60" stroke="#444" stroke-width="0.75" />
<line x1="517.20" y1="225.80" x2="517.20" y2="228.60" stroke="#444" stroke-width="0.75" />
<line x1="522.80" y1="225.80" x2="522.80" y2="228.60" stroke="#444" stroke-width="0.75" />
<line x1="528.40" y1="225.80" x2="528.40" y2="228.60" stroke="#444" stroke-width="0.75" />
<line x1="532.50" y1="225.80" x2="532.50" y2="228.60" stroke="#444" stroke-width="0.75" />
<line x1="535.80" y1="225.80" x2="535.80" y2="228.60" stroke="#444" stroke-width="0.75" />
<line x1="538.30" y1="225.80" x2="538.30" y2="228.60" stroke="#444" stroke-width="0.75" />
<line x1="540.70" y1="225.80" x2="540.70" y2="228.60" stroke="#444" stroke-width="0.75" />
<line x1="556.30" y1="225.80" x2="556.30" y2="228.60" stroke="#444" stroke-width="0.75" />
<line x1="564.50" y1="225.80" x2="564.50" y2="228.60" stroke="#444" stroke-width="0.75" />
<line x1="570.40" y1="225.80" x2="570.40" y2="228.60" stroke="#444" stroke-width="0.75" />
<line x1="575.00" y1="225.80" x2="575.00" y2="228.60" stroke="#444" stroke-width="0.75" />
<line x1="578.40" y1="225.80" x2="578.40" y2="228.60" stroke="#444" stroke-width="0.75" />
<line x1="581.60" y1="225.80" x2="581.60" y2="228.60" stroke="#444" stroke-width="0.75" />
<line x1="584.20" y1="225.80" x2="584.20" y2="228.60" stroke="#444" stroke-width="0.75" />
<line x1="586.40" y1="225.80" x2="586.40" y2="228.60" stroke="#444" stroke-width="0.75" />
<line x1="427.80" y1="225.80" x2="427.80" y2="228.80" stroke="#222" stroke-width="0.7" />
<line x1="428.80" y1="225.80" x2="428.80" y2="230.30" stroke="#222" stroke-width="0.7" />
<line x1="429.80" y1="225.80" x2="429.80" y2="228.80" stroke="#222" stroke-width="0.7" />
<line x1="430.70" y1="225.80" x2="430.70" y2="230.30" stroke="#222" stroke-width="0.7" />
<line x1="431.60" y1="225.80" x2="431.60" y2="228.80" stroke="#222" stroke-width="0.7" />
<line x1="432.60" y1="225.80" x2="432.60" y2="230.30" stroke="#222" stroke-width="0.7" />
<line x1="433.60" y1="225.80" x2="433.60" y2="231.30" stroke="#222" stroke-width="0.7" />
<line x1="434.40" y1="225.80" x2="434.40" y2="231.30" stroke="#222" stroke-width="0.7" />
<line x1="436.20" y1="225.80" x2="436.20" y2="231.30" stroke="#222" stroke-width="0.7" />
<line x1="437.20" y1="225.80" x2="437.20" y2="230.30" stroke="#222" stroke-width="0.7" />
<line x1="438.30" y1="225.80" x2="438.30" y2="228.80" stroke="#222" stroke-width="0.7" />
<line x1="439.40" y1="225.80" x2="439.40" y2="230.30" stroke="#222" stroke-width="0.7" />
<line x1="440.40" y1="225.80" x2="440.40" y2="228.80" stroke="#222" stroke-width="0.7" />
<line x1="442.40" y1="225.80" x2="442.40" y2="230.30" stroke="#222" stroke-width="0.7" />
<text x="372.80" y="245.00" font-size="9.6" fill="#3e3e3e">−10<tspan font-size="6.5" dy="-4">4</tspan></text>
<text x="435.30" y="245.00" font-size="9.6" text-anchor="middle" fill="#3e3e3e">0</text>
<text x="482.40" y="245.00" font-size="9.6" fill="#3e3e3e">10<tspan font-size="6.5" dy="-4">4</tspan></text>
<text x="536.60" y="245.00" font-size="9.6" fill="#3e3e3e">10<tspan font-size="6.5" dy="-4">5</tspan></text>
<text x="582.90" y="245.00" font-size="9.6" fill="#3e3e3e">10<tspan font-size="6.5" dy="-4">6</tspan></text>
<text x="363.20" y="122.30" font-size="11.2" text-anchor="middle" textLength="51.80" lengthAdjust="spacingAndGlyphs" fill="#3e3e3e" transform="rotate(-90 363.20 122.30)">Cell count</text>
<text x="597.60" y="11.60" font-size="11" textLength="54.40" lengthAdjust="spacingAndGlyphs" fill="#3e3e3e">[Vene], nM</text>
<text x="597.60" y="24.60" font-size="11" textLength="77.70" lengthAdjust="spacingAndGlyphs" fill="#3e3e3e">24 h incubation</text>
<rect x="599.30" y="29.20" width="8.80" height="8.80" fill="rgb(143,145,150)" fill-opacity="0.6" stroke="#555555" stroke-opacity="0.55" stroke-width="1"/>
<text x="613.00" y="37.50" font-size="11.3" textLength="7.40" lengthAdjust="spacingAndGlyphs" fill="#3e3e3e">0</text>
<rect x="599.30" y="47.58" width="8.80" height="8.80" fill="rgb(87,88,97)" fill-opacity="0.6" stroke="#222222" stroke-opacity="0.55" stroke-width="1"/>
<text x="613.00" y="55.88" font-size="11.3" textLength="6.20" lengthAdjust="spacingAndGlyphs" fill="#3e3e3e">1</text>
<rect x="599.30" y="65.96" width="8.80" height="8.80" fill="rgb(240,235,123)" fill-opacity="0.6" stroke="#e4dc38" stroke-opacity="0.55" stroke-width="1"/>
<text x="613.00" y="74.26" font-size="11.3" textLength="20.70" lengthAdjust="spacingAndGlyphs" fill="#3e3e3e">3.16</text>
<rect x="599.30" y="84.34" width="8.80" height="8.80" fill="rgb(95,170,170)" fill-opacity="0.6" stroke="#1a9898" stroke-opacity="0.55" stroke-width="1"/>
<text x="613.00" y="92.64" font-size="11.3" textLength="12.20" lengthAdjust="spacingAndGlyphs" fill="#3e3e3e">10</text>
<rect x="599.30" y="102.72" width="8.80" height="8.80" fill="rgb(133,97,170)" fill-opacity="0.6" stroke="#7a4e9d" stroke-opacity="0.55" stroke-width="1"/>
<text x="613.00" y="111.02" font-size="11.3" textLength="21.20" lengthAdjust="spacingAndGlyphs" fill="#3e3e3e">31.6</text>
<rect x="599.30" y="121.10" width="8.80" height="8.80" fill="rgb(207,170,170)" fill-opacity="0.6" stroke="#c99898" stroke-opacity="0.55" stroke-width="1"/>
<text x="613.00" y="129.40" font-size="11.3" textLength="20.00" lengthAdjust="spacingAndGlyphs" fill="#3e3e3e">100</text>
<rect x="599.30" y="139.48" width="8.80" height="8.80" fill="rgb(68,118,68)" fill-opacity="0.6" stroke="#2e6a34" stroke-opacity="0.55" stroke-width="1"/>
<text x="613.00" y="147.78" font-size="11.3" textLength="17.80" lengthAdjust="spacingAndGlyphs" fill="#3e3e3e">316</text>
<rect x="599.30" y="157.86" width="8.80" height="8.80" fill="rgb(157,207,130)" fill-opacity="0.6" stroke="#74c059" stroke-opacity="0.55" stroke-width="1"/>
<text x="613.00" y="166.16" font-size="11.3" textLength="29.90" lengthAdjust="spacingAndGlyphs" fill="#3e3e3e">1,000</text>
<rect x="599.30" y="176.24" width="8.80" height="8.80" fill="rgb(247,177,110)" fill-opacity="0.6" stroke="#f29238" stroke-opacity="0.55" stroke-width="1"/>
<text x="613.00" y="184.54" font-size="11.3" textLength="28.00" lengthAdjust="spacingAndGlyphs" fill="#3e3e3e">3,160</text>
<rect x="599.30" y="194.62" width="8.80" height="8.80" fill="rgb(240,123,110)" fill-opacity="0.6" stroke="#ec4242" stroke-opacity="0.55" stroke-width="1"/>
<text x="613.00" y="202.92" font-size="11.3" textLength="37.40" lengthAdjust="spacingAndGlyphs" fill="#3e3e3e">10,000</text>
<rect x="599.30" y="213.00" width="8.80" height="8.80" fill="rgb(130,197,233)" fill-opacity="0.6" stroke="#2db3e6" stroke-opacity="0.55" stroke-width="1"/>
<text x="613.00" y="221.30" font-size="11.3" textLength="21.70" lengthAdjust="spacingAndGlyphs" fill="#3e3e3e">UTD</text>
<rect x="369.2" y="263.2" width="220.30" height="219.4" fill="none" stroke="#777" stroke-width="1"/>
<line x1="368.8" y1="263.2" x2="589.5" y2="263.2" stroke="#bbb" stroke-width="1.2"/>
<path d="M425.00,304.30 C426.02,304.17 429.35,304.07 431.10,303.50 C432.85,302.93 433.60,301.72 435.50,300.90 C437.40,300.08 440.17,299.57 442.50,298.60 C444.83,297.63 447.17,296.27 449.50,295.10 C451.83,293.93 454.45,292.67 456.50,291.60 C458.55,290.53 460.05,289.63 461.80,288.70 C463.55,287.77 465.55,287.03 467.00,286.00 C468.45,284.97 469.32,283.52 470.50,282.50 C471.68,281.48 472.92,280.72 474.10,279.90 C475.28,279.08 476.43,278.62 477.60,277.60 C478.77,276.58 480.23,274.58 481.10,273.80 C481.97,273.02 482.08,272.55 482.80,272.90 C483.52,273.25 484.23,275.17 485.40,275.90 C486.57,276.63 488.63,277.22 489.80,277.30 C490.97,277.38 491.52,276.27 492.40,276.40 C493.28,276.53 494.07,277.08 495.10,278.10 C496.13,279.12 497.43,281.03 498.60,282.50 C499.77,283.97 500.65,285.15 502.10,286.90 C503.55,288.65 505.55,291.25 507.30,293.00 C509.05,294.75 510.55,295.93 512.60,297.40 C514.65,298.87 517.27,300.78 519.60,301.80 C521.93,302.82 522.37,303.08 526.60,303.50 C530.83,303.92 541.93,304.17 545.00,304.30 Z" fill="rgb(87,88,97)" fill-opacity="0.6" stroke="none"/>
<path d="M369.70,304.30 L425.00,304.30 C426.02,304.17 429.35,304.07 431.10,303.50 C432.85,302.93 433.60,301.72 435.50,300.90 C437.40,300.08 440.17,299.57 442.50,298.60 C444.83,297.63 447.17,296.27 449.50,295.10 C451.83,293.93 454.45,292.67 456.50,291.60 C458.55,290.53 460.05,289.63 461.80,288.70 C463.55,287.77 465.55,287.03 467.00,286.00 C468.45,284.97 469.32,283.52 470.50,282.50 C471.68,281.48 472.92,280.72 474.10,279.90 C475.28,279.08 476.43,278.62 477.60,277.60 C478.77,276.58 480.23,274.58 481.10,273.80 C481.97,273.02 482.08,272.55 482.80,272.90 C483.52,273.25 484.23,275.17 485.40,275.90 C486.57,276.63 488.63,277.22 489.80,277.30 C490.97,277.38 491.52,276.27 492.40,276.40 C493.28,276.53 494.07,277.08 495.10,278.10 C496.13,279.12 497.43,281.03 498.60,282.50 C499.77,283.97 500.65,285.15 502.10,286.90 C503.55,288.65 505.55,291.25 507.30,293.00 C509.05,294.75 510.55,295.93 512.60,297.40 C514.65,298.87 517.27,300.78 519.60,301.80 C521.93,302.82 522.37,303.08 526.60,303.50 C530.83,303.92 541.93,304.17 545.00,304.30 L589.00,304.30" fill="none" stroke="#222222" stroke-width="1.2" stroke-linejoin="round"/>
<path d="M425.00,324.00 C426.17,323.80 430.25,323.73 432.00,322.80 C433.75,321.87 434.03,319.72 435.50,318.40 C436.97,317.08 439.05,316.07 440.80,314.90 C442.55,313.73 444.25,312.57 446.00,311.40 C447.75,310.23 449.68,309.07 451.30,307.90 C452.92,306.73 454.25,305.72 455.70,304.40 C457.15,303.08 458.40,300.87 460.00,300.00 C461.60,299.13 463.83,300.07 465.30,299.20 C466.77,298.33 467.63,295.83 468.80,294.80 C469.97,293.77 470.98,293.88 472.30,293.00 C473.62,292.12 475.53,289.63 476.70,289.50 C477.87,289.37 478.13,291.97 479.30,292.20 C480.47,292.43 482.38,290.77 483.70,290.90 C485.02,291.03 486.03,292.70 487.20,293.00 C488.37,293.30 489.38,291.97 490.70,292.70 C492.02,293.43 493.78,295.60 495.10,297.40 C496.42,299.20 497.15,301.32 498.60,303.50 C500.05,305.68 502.05,308.45 503.80,310.50 C505.55,312.55 507.05,314.18 509.10,315.80 C511.15,317.42 513.77,319.03 516.10,320.20 C518.43,321.37 518.28,322.17 523.10,322.80 C527.92,323.43 541.35,323.80 545.00,324.00 Z" fill="rgb(240,235,123)" fill-opacity="0.6" stroke="none"/>
<path d="M369.70,324.00 L425.00,324.00 C426.17,323.80 430.25,323.73 432.00,322.80 C433.75,321.87 434.03,319.72 435.50,318.40 C436.97,317.08 439.05,316.07 440.80,314.90 C442.55,313.73 444.25,312.57 446.00,311.40 C447.75,310.23 449.68,309.07 451.30,307.90 C452.92,306.73 454.25,305.72 455.70,304.40 C457.15,303.08 458.40,300.87 460.00,300.00 C461.60,299.13 463.83,300.07 465.30,299.20 C466.77,298.33 467.63,295.83 468.80,294.80 C469.97,293.77 470.98,293.88 472.30,293.00 C473.62,292.12 475.53,289.63 476.70,289.50 C477.87,289.37 478.13,291.97 479.30,292.20 C480.47,292.43 482.38,290.77 483.70,290.90 C485.02,291.03 486.03,292.70 487.20,293.00 C488.37,293.30 489.38,291.97 490.70,292.70 C492.02,293.43 493.78,295.60 495.10,297.40 C496.42,299.20 497.15,301.32 498.60,303.50 C500.05,305.68 502.05,308.45 503.80,310.50 C505.55,312.55 507.05,314.18 509.10,315.80 C511.15,317.42 513.77,319.03 516.10,320.20 C518.43,321.37 518.28,322.17 523.10,322.80 C527.92,323.43 541.35,323.80 545.00,324.00 L589.00,324.00" fill="none" stroke="#e4dc38" stroke-width="1.2" stroke-linejoin="round"/>
<path d="M425.00,343.70 C426.17,343.58 430.25,343.85 432.00,343.00 C433.75,342.15 434.03,340.22 435.50,338.60 C436.97,336.98 439.05,334.77 440.80,333.30 C442.55,331.83 444.25,331.12 446.00,329.80 C447.75,328.48 449.83,327.15 451.30,325.40 C452.77,323.65 453.63,321.05 454.80,319.30 C455.97,317.55 456.85,315.77 458.30,314.90 C459.75,314.03 461.75,314.38 463.50,314.10 C465.25,313.82 467.18,313.80 468.80,313.20 C470.42,312.60 471.88,310.50 473.20,310.50 C474.52,310.50 475.38,312.47 476.70,313.20 C478.02,313.93 479.93,314.90 481.10,314.90 C482.27,314.90 482.53,312.75 483.70,313.20 C484.87,313.65 486.78,316.28 488.10,317.60 C489.42,318.92 490.15,319.20 491.60,321.10 C493.05,323.00 495.05,326.97 496.80,329.00 C498.55,331.03 500.35,331.70 502.10,333.30 C503.85,334.90 505.55,337.13 507.30,338.60 C509.05,340.07 509.97,341.25 512.60,342.10 C515.23,342.95 517.70,343.43 523.10,343.70 C528.50,343.97 541.35,343.70 545.00,343.70 Z" fill="rgb(95,170,170)" fill-opacity="0.6" stroke="none"/>
<path d="M369.70,343.70 L425.00,343.70 C426.17,343.58 430.25,343.85 432.00,343.00 C433.75,342.15 434.03,340.22 435.50,338.60 C436.97,336.98 439.05,334.77 440.80,333.30 C442.55,331.83 444.25,331.12 446.00,329.80 C447.75,328.48 449.83,327.15 451.30,325.40 C452.77,323.65 453.63,321.05 454.80,319.30 C455.97,317.55 456.85,315.77 458.30,314.90 C459.75,314.03 461.75,314.38 463.50,314.10 C465.25,313.82 467.18,313.80 468.80,313.20 C470.42,312.60 471.88,310.50 473.20,310.50 C474.52,310.50 475.38,312.47 476.70,313.20 C478.02,313.93 479.93,314.90 481.10,314.90 C482.27,314.90 482.53,312.75 483.70,313.20 C484.87,313.65 486.78,316.28 488.10,317.60 C489.42,318.92 490.15,319.20 491.60,321.10 C493.05,323.00 495.05,326.97 496.80,329.00 C498.55,331.03 500.35,331.70 502.10,333.30 C503.85,334.90 505.55,337.13 507.30,338.60 C509.05,340.07 509.97,341.25 512.60,342.10 C515.23,342.95 517.70,343.43 523.10,343.70 C528.50,343.97 541.35,343.70 545.00,343.70 L589.00,343.70" fill="none" stroke="#1a9898" stroke-width="1.2" stroke-linejoin="round"/>
<path d="M425.00,363.50 C425.97,363.35 429.33,363.35 430.80,362.60 C432.27,361.85 432.93,360.22 433.80,359.00 C434.67,357.78 435.03,356.28 436.00,355.30 C436.97,354.32 438.40,353.95 439.60,353.10 C440.80,352.25 441.98,351.42 443.20,350.20 C444.42,348.98 445.85,347.15 446.90,345.80 C447.95,344.45 448.57,343.32 449.50,342.10 C450.43,340.88 451.47,339.38 452.50,338.50 C453.53,337.62 454.58,336.93 455.70,336.80 C456.82,336.67 458.03,337.98 459.20,337.70 C460.37,337.42 461.10,336.12 462.70,335.10 C464.30,334.08 466.90,332.03 468.80,331.60 C470.70,331.17 472.63,332.07 474.10,332.50 C475.57,332.93 476.30,334.35 477.60,334.20 C478.90,334.05 480.60,331.30 481.90,331.60 C483.20,331.90 484.08,334.55 485.40,336.00 C486.72,337.45 488.55,338.78 489.80,340.30 C491.05,341.82 491.78,343.57 492.90,345.10 C494.02,346.63 495.40,348.65 496.50,349.50 C497.60,350.35 498.28,349.47 499.50,350.20 C500.72,350.93 502.35,352.68 503.80,353.90 C505.25,355.12 506.48,356.42 508.20,357.50 C509.92,358.58 512.15,359.55 514.10,360.40 C516.05,361.25 517.25,362.08 519.90,362.60 C522.55,363.12 528.32,363.35 530.00,363.50 Z" fill="rgb(133,97,170)" fill-opacity="0.6" stroke="none"/>
<path d="M369.70,363.50 L425.00,363.50 C425.97,363.35 429.33,363.35 430.80,362.60 C432.27,361.85 432.93,360.22 433.80,359.00 C434.67,357.78 435.03,356.28 436.00,355.30 C436.97,354.32 438.40,353.95 439.60,353.10 C440.80,352.25 441.98,351.42 443.20,350.20 C444.42,348.98 445.85,347.15 446.90,345.80 C447.95,344.45 448.57,343.32 449.50,342.10 C450.43,340.88 451.47,339.38 452.50,338.50 C453.53,337.62 454.58,336.93 455.70,336.80 C456.82,336.67 458.03,337.98 459.20,337.70 C460.37,337.42 461.10,336.12 462.70,335.10 C464.30,334.08 466.90,332.03 468.80,331.60 C470.70,331.17 472.63,332.07 474.10,332.50 C475.57,332.93 476.30,334.35 477.60,334.20 C478.90,334.05 480.60,331.30 481.90,331.60 C483.20,331.90 484.08,334.55 485.40,336.00 C486.72,337.45 488.55,338.78 489.80,340.30 C491.05,341.82 491.78,343.57 492.90,345.10 C494.02,346.63 495.40,348.65 496.50,349.50 C497.60,350.35 498.28,349.47 499.50,350.20 C500.72,350.93 502.35,352.68 503.80,353.90 C505.25,355.12 506.48,356.42 508.20,357.50 C509.92,358.58 512.15,359.55 514.10,360.40 C516.05,361.25 517.25,362.08 519.90,362.60 C522.55,363.12 528.32,363.35 530.00,363.50 L589.00,363.50" fill="none" stroke="#7a4e9d" stroke-width="1.2" stroke-linejoin="round"/>
<path d="M425.00,383.20 C425.97,383.05 429.33,383.30 430.80,382.30 C432.27,381.30 432.82,379.13 433.80,377.20 C434.78,375.27 435.48,372.52 436.70,370.70 C437.92,368.88 440.02,368.13 441.10,366.30 C442.18,364.47 442.48,361.53 443.20,359.70 C443.92,357.87 444.53,356.40 445.40,355.30 C446.27,354.20 447.18,353.58 448.40,353.10 C449.62,352.62 451.37,353.00 452.70,352.40 C454.03,351.80 455.30,350.23 456.40,349.50 C457.50,348.77 458.33,347.63 459.30,348.00 C460.27,348.37 461.23,350.97 462.20,351.70 C463.17,352.43 464.25,352.65 465.10,352.40 C465.95,352.15 466.43,349.95 467.30,350.20 C468.17,350.45 469.08,352.57 470.30,353.90 C471.52,355.23 473.15,356.87 474.60,358.20 C476.05,359.53 477.53,360.32 479.00,361.90 C480.47,363.48 481.70,365.88 483.40,367.70 C485.10,369.52 487.25,371.22 489.20,372.80 C491.15,374.38 493.15,375.98 495.10,377.20 C497.05,378.42 498.47,379.25 500.90,380.10 C503.33,380.95 505.68,381.78 509.70,382.30 C513.72,382.82 522.45,383.05 525.00,383.20 Z" fill="rgb(207,170,170)" fill-opacity="0.6" stroke="none"/>
<path d="M369.70,383.20 L425.00,383.20 C425.97,383.05 429.33,383.30 430.80,382.30 C432.27,381.30 432.82,379.13 433.80,377.20 C434.78,375.27 435.48,372.52 436.70,370.70 C437.92,368.88 440.02,368.13 441.10,366.30 C442.18,364.47 442.48,361.53 443.20,359.70 C443.92,357.87 444.53,356.40 445.40,355.30 C446.27,354.20 447.18,353.58 448.40,353.10 C449.62,352.62 451.37,353.00 452.70,352.40 C454.03,351.80 455.30,350.23 456.40,349.50 C457.50,348.77 458.33,347.63 459.30,348.00 C460.27,348.37 461.23,350.97 462.20,351.70 C463.17,352.43 464.25,352.65 465.10,352.40 C465.95,352.15 466.43,349.95 467.30,350.20 C468.17,350.45 469.08,352.57 470.30,353.90 C471.52,355.23 473.15,356.87 474.60,358.20 C476.05,359.53 477.53,360.32 479.00,361.90 C480.47,363.48 481.70,365.88 483.40,367.70 C485.10,369.52 487.25,371.22 489.20,372.80 C491.15,374.38 493.15,375.98 495.10,377.20 C497.05,378.42 498.47,379.25 500.90,380.10 C503.33,380.95 505.68,381.78 509.70,382.30 C513.72,382.82 522.45,383.05 525.00,383.20 L589.00,383.20" fill="none" stroke="#c99898" stroke-width="1.2" stroke-linejoin="round"/>
<path d="M425.00,402.90 C425.97,402.83 429.33,403.13 430.80,402.50 C432.27,401.87 432.93,401.25 433.80,399.10 C434.67,396.95 435.15,393.12 436.00,389.60 C436.85,386.08 437.93,380.92 438.90,378.00 C439.87,375.08 440.95,373.57 441.80,372.10 C442.65,370.63 443.27,369.57 444.00,369.20 C444.73,368.83 445.35,370.33 446.20,369.90 C447.05,369.47 448.02,366.72 449.10,366.60 C450.18,366.48 451.48,368.03 452.70,369.20 C453.92,370.37 455.18,372.27 456.40,373.60 C457.62,374.93 458.67,375.50 460.00,377.20 C461.33,378.90 462.93,381.73 464.40,383.80 C465.87,385.87 467.10,387.90 468.80,389.60 C470.50,391.30 472.65,392.53 474.60,394.00 C476.55,395.47 478.07,397.13 480.50,398.40 C482.93,399.67 485.80,400.85 489.20,401.60 C492.60,402.35 498.95,402.68 500.90,402.90 Z" fill="rgb(68,118,68)" fill-opacity="0.6" stroke="none"/>
<path d="M369.70,402.90 L425.00,402.90 C425.97,402.83 429.33,403.13 430.80,402.50 C432.27,401.87 432.93,401.25 433.80,399.10 C434.67,396.95 435.15,393.12 436.00,389.60 C436.85,386.08 437.93,380.92 438.90,378.00 C439.87,375.08 440.95,373.57 441.80,372.10 C442.65,370.63 443.27,369.57 444.00,369.20 C444.73,368.83 445.35,370.33 446.20,369.90 C447.05,369.47 448.02,366.72 449.10,366.60 C450.18,366.48 451.48,368.03 452.70,369.20 C453.92,370.37 455.18,372.27 456.40,373.60 C457.62,374.93 458.67,375.50 460.00,377.20 C461.33,378.90 462.93,381.73 464.40,383.80 C465.87,385.87 467.10,387.90 468.80,389.60 C470.50,391.30 472.65,392.53 474.60,394.00 C476.55,395.47 478.07,397.13 480.50,398.40 C482.93,399.67 485.80,400.85 489.20,401.60 C492.60,402.35 498.95,402.68 500.90,402.90 L589.00,402.90" fill="none" stroke="#2e6a34" stroke-width="1.2" stroke-linejoin="round"/>
<path d="M425.00,422.60 C426.10,422.50 430.02,423.12 431.60,422.00 C433.18,420.88 433.65,418.87 434.50,415.90 C435.35,412.93 435.97,407.85 436.70,404.20 C437.43,400.55 438.05,396.80 438.90,394.00 C439.75,391.20 440.83,388.67 441.80,387.40 C442.77,386.13 443.73,385.90 444.70,386.40 C445.67,386.90 446.50,388.65 447.60,390.40 C448.70,392.15 449.95,394.60 451.30,396.90 C452.65,399.20 454.25,401.77 455.70,404.20 C457.15,406.63 458.55,409.55 460.00,411.50 C461.45,413.45 462.68,414.55 464.40,415.90 C466.12,417.25 468.10,418.62 470.30,419.60 C472.50,420.58 474.20,421.30 477.60,421.80 C481.00,422.30 488.52,422.47 490.70,422.60 Z" fill="rgb(157,207,130)" fill-opacity="0.6" stroke="none"/>
<path d="M369.70,422.60 L425.00,422.60 C426.10,422.50 430.02,423.12 431.60,422.00 C433.18,420.88 433.65,418.87 434.50,415.90 C435.35,412.93 435.97,407.85 436.70,404.20 C437.43,400.55 438.05,396.80 438.90,394.00 C439.75,391.20 440.83,388.67 441.80,387.40 C442.77,386.13 443.73,385.90 444.70,386.40 C445.67,386.90 446.50,388.65 447.60,390.40 C448.70,392.15 449.95,394.60 451.30,396.90 C452.65,399.20 454.25,401.77 455.70,404.20 C457.15,406.63 458.55,409.55 460.00,411.50 C461.45,413.45 462.68,414.55 464.40,415.90 C466.12,417.25 468.10,418.62 470.30,419.60 C472.50,420.58 474.20,421.30 477.60,421.80 C481.00,422.30 488.52,422.47 490.70,422.60 L589.00,422.60" fill="none" stroke="#74c059" stroke-width="1.2" stroke-linejoin="round"/>
<path d="M425.00,442.30 C426.10,442.17 430.13,442.48 431.60,441.50 C433.07,440.52 433.07,438.97 433.80,436.40 C434.53,433.83 435.28,430.00 436.00,426.10 C436.72,422.20 437.38,416.03 438.10,413.00 C438.82,409.97 439.45,408.87 440.30,407.90 C441.15,406.93 442.35,406.60 443.20,407.20 C444.05,407.80 444.53,409.57 445.40,411.50 C446.27,413.43 447.30,416.12 448.40,418.80 C449.50,421.48 450.67,425.03 452.00,427.60 C453.33,430.17 454.82,432.50 456.40,434.20 C457.98,435.90 459.43,436.72 461.50,437.80 C463.57,438.88 465.15,439.95 468.80,440.70 C472.45,441.45 480.97,442.03 483.40,442.30 Z" fill="rgb(247,177,110)" fill-opacity="0.6" stroke="none"/>
<path d="M369.70,442.30 L425.00,442.30 C426.10,442.17 430.13,442.48 431.60,441.50 C433.07,440.52 433.07,438.97 433.80,436.40 C434.53,433.83 435.28,430.00 436.00,426.10 C436.72,422.20 437.38,416.03 438.10,413.00 C438.82,409.97 439.45,408.87 440.30,407.90 C441.15,406.93 442.35,406.60 443.20,407.20 C444.05,407.80 444.53,409.57 445.40,411.50 C446.27,413.43 447.30,416.12 448.40,418.80 C449.50,421.48 450.67,425.03 452.00,427.60 C453.33,430.17 454.82,432.50 456.40,434.20 C457.98,435.90 459.43,436.72 461.50,437.80 C463.57,438.88 465.15,439.95 468.80,440.70 C472.45,441.45 480.97,442.03 483.40,442.30 L589.00,442.30" fill="none" stroke="#f29238" stroke-width="1.2" stroke-linejoin="round"/>
<path d="M425.00,462.00 C426.22,461.87 430.72,462.55 432.30,461.20 C433.88,459.85 433.88,458.28 434.50,453.90 C435.12,449.52 435.52,439.40 436.00,434.90 C436.48,430.40 436.92,427.63 437.40,426.90 C437.88,426.17 438.42,427.95 438.90,430.50 C439.38,433.05 439.70,438.30 440.30,442.20 C440.90,446.10 441.65,451.10 442.50,453.90 C443.35,456.70 443.93,457.78 445.40,459.00 C446.87,460.22 448.37,460.70 451.30,461.20 C454.23,461.70 461.05,461.87 463.00,462.00 Z" fill="rgb(240,123,110)" fill-opacity="0.6" stroke="none"/>
<path d="M369.70,462.00 L425.00,462.00 C426.22,461.87 430.72,462.55 432.30,461.20 C433.88,459.85 433.88,458.28 434.50,453.90 C435.12,449.52 435.52,439.40 436.00,434.90 C436.48,430.40 436.92,427.63 437.40,426.90 C437.88,426.17 438.42,427.95 438.90,430.50 C439.38,433.05 439.70,438.30 440.30,442.20 C440.90,446.10 441.65,451.10 442.50,453.90 C443.35,456.70 443.93,457.78 445.40,459.00 C446.87,460.22 448.37,460.70 451.30,461.20 C454.23,461.70 461.05,461.87 463.00,462.00 L589.00,462.00" fill="none" stroke="#ec4242" stroke-width="1.2" stroke-linejoin="round"/>
<path d="M425.00,481.80 C426.22,481.65 430.83,482.63 432.30,480.90 C433.77,479.17 433.37,475.90 433.80,471.40 C434.23,466.90 434.62,457.92 434.90,453.90 C435.18,449.88 435.25,446.82 435.50,447.30 C435.75,447.78 436.08,452.05 436.40,456.80 C436.72,461.55 436.98,471.78 437.40,475.80 C437.82,479.82 437.97,479.90 438.90,480.90 C439.83,481.90 442.32,481.65 443.00,481.80 Z" fill="rgb(130,197,233)" fill-opacity="0.6" stroke="none"/>
<path d="M369.70,481.80 L425.00,481.80 C426.22,481.65 430.83,482.63 432.30,480.90 C433.77,479.17 433.37,475.90 433.80,471.40 C434.23,466.90 434.62,457.92 434.90,453.90 C435.18,449.88 435.25,446.82 435.50,447.30 C435.75,447.78 436.08,452.05 436.40,456.80 C436.72,461.55 436.98,471.78 437.40,475.80 C437.82,479.82 437.97,479.90 438.90,480.90 C439.83,481.90 442.32,481.65 443.00,481.80 L589.00,481.80" fill="none" stroke="#2db3e6" stroke-width="1.2" stroke-linejoin="round"/>
<line x1="368.80" y1="482.90" x2="589.50" y2="482.90" stroke="#bdb8b8" stroke-width="1.0" />
<line x1="382.30" y1="483.20" x2="382.30" y2="488.80" stroke="#333" stroke-width="0.9" />
<line x1="435.30" y1="483.20" x2="435.30" y2="488.80" stroke="#333" stroke-width="0.9" />
<line x1="488.40" y1="483.20" x2="488.40" y2="488.80" stroke="#333" stroke-width="0.9" />
<line x1="542.60" y1="483.20" x2="542.60" y2="488.80" stroke="#333" stroke-width="0.9" />
<line x1="588.90" y1="483.20" x2="588.90" y2="488.80" stroke="#333" stroke-width="0.9" />
<line x1="384.60" y1="483.20" x2="384.60" y2="486.00" stroke="#444" stroke-width="0.75" />
<line x1="388.10" y1="483.20" x2="388.10" y2="486.00" stroke="#444" stroke-width="0.75" />
<line x1="392.20" y1="483.20" x2="392.20" y2="486.00" stroke="#444" stroke-width="0.75" />
<line x1="396.90" y1="483.20" x2="396.90" y2="486.00" stroke="#444" stroke-width="0.75" />
<line x1="402.10" y1="483.20" x2="402.10" y2="486.00" stroke="#444" stroke-width="0.75" />
<line x1="407.40" y1="483.20" x2="407.40" y2="486.00" stroke="#444" stroke-width="0.75" />
<line x1="413.20" y1="483.20" x2="413.20" y2="486.00" stroke="#444" stroke-width="0.75" />
<line x1="420.20" y1="483.20" x2="420.20" y2="486.00" stroke="#444" stroke-width="0.75" />
<line x1="449.90" y1="483.20" x2="449.90" y2="486.00" stroke="#444" stroke-width="0.75" />
<line x1="456.60" y1="483.20" x2="456.60" y2="486.00" stroke="#444" stroke-width="0.75" />
<line x1="462.60" y1="483.20" x2="462.60" y2="486.00" stroke="#444" stroke-width="0.75" />
<line x1="468.40" y1="483.20" x2="468.40" y2="486.00" stroke="#444" stroke-width="0.75" />
<line x1="473.50" y1="483.20" x2="473.50" y2="486.00" stroke="#444" stroke-width="0.75" />
<line x1="478.10" y1="483.20" x2="478.10" y2="486.00" stroke="#444" stroke-width="0.75" />
<line x1="482.10" y1="483.20" x2="482.10" y2="486.00" stroke="#444" stroke-width="0.75" />
<line x1="485.60" y1="483.20" x2="485.60" y2="486.00" stroke="#444" stroke-width="0.75" />
<line x1="506.50" y1="483.20" x2="506.50" y2="486.00" stroke="#444" stroke-width="0.75" />
<line x1="517.20" y1="483.20" x2="517.20" y2="486.00" stroke="#444" stroke-width="0.75" />
<line x1="522.80" y1="483.20" x2="522.80" y2="486.00" stroke="#444" stroke-width="0.75" />
<line x1="528.40" y1="483.20" x2="528.40" y2="486.00" stroke="#444" stroke-width="0.75" />
<line x1="532.50" y1="483.20" x2="532.50" y2="486.00" stroke="#444" stroke-width="0.75" />
<line x1="535.80" y1="483.20" x2="535.80" y2="486.00" stroke="#444" stroke-width="0.75" />
<line x1="538.30" y1="483.20" x2="538.30" y2="486.00" stroke="#444" stroke-width="0.75" />
<line x1="540.70" y1="483.20" x2="540.70" y2="486.00" stroke="#444" stroke-width="0.75" />
<line x1="556.30" y1="483.20" x2="556.30" y2="486.00" stroke="#444" stroke-width="0.75" />
<line x1="564.50" y1="483.20" x2="564.50" y2="486.00" stroke="#444" stroke-width="0.75" />
<line x1="570.40" y1="483.20" x2="570.40" y2="486.00" stroke="#444" stroke-width="0.75" />
<line x1="575.00" y1="483.20" x2="575.00" y2="486.00" stroke="#444" stroke-width="0.75" />
<line x1="578.40" y1="483.20" x2="578.40" y2="486.00" stroke="#444" stroke-width="0.75" />
<line x1="581.60" y1="483.20" x2="581.60" y2="486.00" stroke="#444" stroke-width="0.75" />
<line x1="584.20" y1="483.20" x2="584.20" y2="486.00" stroke="#444" stroke-width="0.75" />
<line x1="586.40" y1="483.20" x2="586.40" y2="486.00" stroke="#444" stroke-width="0.75" />
<line x1="427.80" y1="483.20" x2="427.80" y2="486.20" stroke="#222" stroke-width="0.7" />
<line x1="428.80" y1="483.20" x2="428.80" y2="487.70" stroke="#222" stroke-width="0.7" />
<line x1="429.80" y1="483.20" x2="429.80" y2="486.20" stroke="#222" stroke-width="0.7" />
<line x1="430.70" y1="483.20" x2="430.70" y2="487.70" stroke="#222" stroke-width="0.7" />
<line x1="431.60" y1="483.20" x2="431.60" y2="486.20" stroke="#222" stroke-width="0.7" />
<line x1="432.60" y1="483.20" x2="432.60" y2="487.70" stroke="#222" stroke-width="0.7" />
<line x1="433.60" y1="483.20" x2="433.60" y2="488.70" stroke="#222" stroke-width="0.7" />
<line x1="434.40" y1="483.20" x2="434.40" y2="488.70" stroke="#222" stroke-width="0.7" />
<line x1="436.20" y1="483.20" x2="436.20" y2="488.70" stroke="#222" stroke-width="0.7" />
<line x1="437.20" y1="483.20" x2="437.20" y2="487.70" stroke="#222" stroke-width="0.7" />
<line x1="438.30" y1="483.20" x2="438.30" y2="486.20" stroke="#222" stroke-width="0.7" />
<line x1="439.40" y1="483.20" x2="439.40" y2="487.70" stroke="#222" stroke-width="0.7" />
<line x1="440.40" y1="483.20" x2="440.40" y2="486.20" stroke="#222" stroke-width="0.7" />
<line x1="442.40" y1="483.20" x2="442.40" y2="487.70" stroke="#222" stroke-width="0.7" />
<text x="372.80" y="502.20" font-size="9.6" fill="#3e3e3e">−10<tspan font-size="6.5" dy="-4">4</tspan></text>
<text x="435.30" y="502.20" font-size="9.6" text-anchor="middle" fill="#3e3e3e">0</text>
<text x="482.40" y="502.20" font-size="9.6" fill="#3e3e3e">10<tspan font-size="6.5" dy="-4">4</tspan></text>
<text x="536.60" y="502.20" font-size="9.6" fill="#3e3e3e">10<tspan font-size="6.5" dy="-4">5</tspan></text>
<text x="582.90" y="502.20" font-size="9.6" fill="#3e3e3e">10<tspan font-size="6.5" dy="-4">6</tspan></text>
<text x="364.30" y="373.00" font-size="11.2" text-anchor="middle" textLength="51.80" lengthAdjust="spacingAndGlyphs" fill="#3e3e3e" transform="rotate(-90 364.30 373.00)">Cell count</text>
<text x="381.20" y="516.00" font-size="11.1" textLength="195.50" lengthAdjust="spacingAndGlyphs" fill="#3e3e3e">Anti-Fab antibody staining of R-domain</text>
<text x="594.60" y="278.90" font-size="11" textLength="92.50" lengthAdjust="spacingAndGlyphs" fill="#3e3e3e">Incubation time, h</text>
<text x="594.20" y="291.60" font-size="11" textLength="66.50" lengthAdjust="spacingAndGlyphs" fill="#3e3e3e">1.25 µM Vene</text>
<rect x="595.30" y="307.30" width="9.00" height="9.00" fill="rgb(87,88,97)" fill-opacity="0.6" stroke="#222222" stroke-opacity="0.55" stroke-width="1"/>
<text x="609.20" y="315.70" font-size="11.3" textLength="7.40" lengthAdjust="spacingAndGlyphs" fill="#3e3e3e">0</text>
<rect x="595.30" y="324.94" width="9.00" height="9.00" fill="rgb(240,235,123)" fill-opacity="0.6" stroke="#e4dc38" stroke-opacity="0.55" stroke-width="1"/>
<text x="609.20" y="333.34" font-size="11.3" textLength="16.90" lengthAdjust="spacingAndGlyphs" fill="#3e3e3e">0.5</text>
<rect x="595.30" y="342.58" width="9.00" height="9.00" fill="rgb(95,170,170)" fill-opacity="0.6" stroke="#1a9898" stroke-opacity="0.55" stroke-width="1"/>
<text x="609.20" y="350.98" font-size="11.3" textLength="6.20" lengthAdjust="spacingAndGlyphs" fill="#3e3e3e">1</text>
<rect x="595.30" y="360.22" width="9.00" height="9.00" fill="rgb(133,97,170)" fill-opacity="0.6" stroke="#7a4e9d" stroke-opacity="0.55" stroke-width="1"/>
<text x="609.20" y="368.62" font-size="11.3" textLength="14.40" lengthAdjust="spacingAndGlyphs" fill="#3e3e3e">1.5</text>
<rect x="595.30" y="377.86" width="9.00" height="9.00" fill="rgb(207,170,170)" fill-opacity="0.6" stroke="#c99898" stroke-opacity="0.55" stroke-width="1"/>
<text x="609.20" y="386.26" font-size="11.3" textLength="16.30" lengthAdjust="spacingAndGlyphs" fill="#3e3e3e">3.5</text>
<rect x="595.30" y="395.50" width="9.00" height="9.00" fill="rgb(68,118,68)" fill-opacity="0.6" stroke="#2e6a34" stroke-opacity="0.55" stroke-width="1"/>
<text x="609.20" y="403.90" font-size="11.3" textLength="16.30" lengthAdjust="spacingAndGlyphs" fill="#3e3e3e">5.5</text>
<rect x="595.30" y="413.14" width="9.00" height="9.00" fill="rgb(157,207,130)" fill-opacity="0.6" stroke="#74c059" stroke-opacity="0.55" stroke-width="1"/>
<text x="609.20" y="421.54" font-size="11.3" textLength="15.40" lengthAdjust="spacingAndGlyphs" fill="#3e3e3e">7.5</text>
<rect x="595.30" y="430.78" width="9.00" height="9.00" fill="rgb(247,177,110)" fill-opacity="0.6" stroke="#f29238" stroke-opacity="0.55" stroke-width="1"/>
<text x="609.20" y="439.18" font-size="11.3" textLength="16.30" lengthAdjust="spacingAndGlyphs" fill="#3e3e3e">9.5</text>
<rect x="595.30" y="448.42" width="9.00" height="9.00" fill="rgb(240,123,110)" fill-opacity="0.6" stroke="#ec4242" stroke-opacity="0.55" stroke-width="1"/>
<text x="609.20" y="456.82" font-size="11.3" textLength="13.00" lengthAdjust="spacingAndGlyphs" fill="#3e3e3e">24</text>
<rect x="595.30" y="466.06" width="9.00" height="9.00" fill="rgb(130,197,233)" fill-opacity="0.6" stroke="#2db3e6" stroke-opacity="0.55" stroke-width="1"/>
<text x="609.20" y="474.46" font-size="11.3" textLength="21.40" lengthAdjust="spacingAndGlyphs" fill="#3e3e3e">UTD</text>
<rect x="99.2" y="542.9" width="164.6" height="18.6" fill="#f5c3a3" stroke="#222" stroke-width="0.9"/>
<rect x="99.2" y="563.4" width="164.6" height="18.7" fill="#aacfe0" stroke="#222" stroke-width="0.9"/>
<rect x="99.2" y="722.0" width="164.6" height="18.9" fill="#aacfe0" stroke="#222" stroke-width="0.9"/>
<text x="184.90" y="555.30" font-size="10.9" text-anchor="middle" textLength="71.50" lengthAdjust="spacingAndGlyphs" fill="#3e3e3e">Piezo element</text>
<text x="178.80" y="598.80" font-size="10.9" textLength="67.50" lengthAdjust="spacingAndGlyphs" fill="#3e3e3e">Sound waves</text>
<text x="197.70" y="628.30" font-size="10.9" textLength="32.00" lengthAdjust="spacingAndGlyphs" fill="#3e3e3e">T cells</text>
<text x="101.00" y="643.10" font-size="10.9" textLength="28.40" lengthAdjust="spacingAndGlyphs" fill="#3e3e3e">Force</text>
<text x="101.00" y="659.40" font-size="10.9" textLength="27.10" lengthAdjust="spacingAndGlyphs" fill="#3e3e3e">Node</text>
<text x="103.00" y="617.80" font-size="10.9" fill="#3e3e3e">F</text>
<text x="103.00" y="687.20" font-size="10.9" fill="#3e3e3e">F</text>
<text x="181.00" y="734.50" font-size="10.9" text-anchor="middle" textLength="114.80" lengthAdjust="spacingAndGlyphs" fill="#3e3e3e">Cancer cell monolayer</text>
<line x1="100.00" y1="647.20" x2="264.00" y2="647.20" stroke="#444" stroke-width="0.9" stroke-dasharray="2.9,3.4"/>
<rect x="115.9" y="591.0" width="2.6" height="25" fill="#111"/>
<polygon points="112.0,614.5 122.4,614.5 117.2,625.8" fill="#111"/>
<rect x="115.9" y="675.0" width="2.6" height="24.0" fill="#111"/>
<polygon points="112.0,676.8 122.4,676.8 117.2,665.2" fill="#111"/>
<path d="M166,713 C176,704 190,697.5 205,699 C224,702 247,710.5 264,716.8 C244,719.6 205,720.6 176,719.4 C170,718.5 166,716 166,713 Z" fill="#f3a566" stroke="#222" stroke-width="0.8"/>
<ellipse cx="208.5" cy="711.3" rx="14.5" ry="6.3" fill="#e07a3a" stroke="#222" stroke-width="0.8"/>
<path d="M102.5,715.2 C114,707.5 130,699.5 146,697 C160,695.8 172,698.6 184,703.6 C195,708 205,713 213.5,718.2 C188,719.8 158,720.3 134,719.3 C119,718.7 108,717.3 102.5,715.2 Z" fill="#f3a566" stroke="#222" stroke-width="0.8"/>
<ellipse cx="149.9" cy="710.6" rx="15.8" ry="6.8" fill="#e07a3a" stroke="#222" stroke-width="0.8"/>
<path d="M159.40,646.70 C159.40,645.03 160.78,642.55 162.00,640.80 C163.22,639.05 164.75,637.65 166.70,636.20 C168.65,634.75 171.75,632.98 173.70,632.10 C175.65,631.22 176.65,630.70 178.40,630.90 C180.15,631.10 182.45,632.03 184.20,633.30 C185.95,634.57 188.13,636.47 188.90,638.50 C189.67,640.53 189.12,642.87 188.80,645.50 C188.48,648.13 187.97,652.15 187.00,654.30 C186.03,656.45 184.83,657.82 183.00,658.40 C181.17,658.98 178.53,658.48 176.00,657.80 C173.47,657.12 170.13,655.47 167.80,654.30 C165.47,653.13 163.40,652.07 162.00,650.80 C160.60,649.53 159.40,648.37 159.40,646.70 Z" fill="#5db28b" stroke="#222" stroke-width="1.0"/>
<ellipse cx="175.10" cy="646.30" rx="8.8" ry="7.0" fill="#3a9a68" stroke="#222" stroke-width="1.0"/>
<path d="M183.60,648.10 C183.60,646.43 184.98,643.95 186.20,642.20 C187.42,640.45 188.95,639.05 190.90,637.60 C192.85,636.15 195.95,634.38 197.90,633.50 C199.85,632.62 200.85,632.10 202.60,632.30 C204.35,632.50 206.65,633.43 208.40,634.70 C210.15,635.97 212.33,637.87 213.10,639.90 C213.87,641.93 213.32,644.27 213.00,646.90 C212.68,649.53 212.17,653.55 211.20,655.70 C210.23,657.85 209.03,659.22 207.20,659.80 C205.37,660.38 202.73,659.88 200.20,659.20 C197.67,658.52 194.33,656.87 192.00,655.70 C189.67,654.53 187.60,653.47 186.20,652.20 C184.80,650.93 183.60,649.77 183.60,648.10 Z" fill="#5db28b" stroke="#222" stroke-width="1.0"/>
<ellipse cx="198.80" cy="647.30" rx="8.8" ry="7.0" fill="#3a9a68" stroke="#222" stroke-width="1.0"/>
<path d="M207.46,649.20 C207.46,647.53 208.94,645.05 210.25,643.30 C211.55,641.55 213.19,640.15 215.28,638.70 C217.36,637.25 220.68,635.48 222.77,634.60 C224.85,633.72 225.92,633.20 227.79,633.40 C229.67,633.60 232.13,634.53 234.00,635.80 C235.87,637.07 238.21,638.97 239.03,641.00 C239.85,643.03 239.26,645.37 238.92,648.00 C238.58,650.63 238.03,654.65 237.00,656.80 C235.96,658.95 234.68,660.32 232.72,660.90 C230.75,661.48 227.94,660.98 225.23,660.30 C222.52,659.62 218.95,657.97 216.45,656.80 C213.96,655.63 211.74,654.57 210.25,653.30 C208.75,652.03 207.46,650.87 207.46,649.20 Z" fill="#5db28b" stroke="#222" stroke-width="1.0"/>
<ellipse cx="223.00" cy="648.40" rx="8.8" ry="7.0" fill="#3a9a68" stroke="#222" stroke-width="1.0"/>
<path d="M135.90,688.70 C135.90,686.90 137.25,684.77 138.90,682.80 C140.55,680.83 143.33,678.32 145.80,676.90 C148.27,675.48 151.08,674.30 153.70,674.30 C156.32,674.30 159.37,675.48 161.50,676.90 C163.63,678.32 165.45,680.67 166.50,682.80 C167.55,684.93 167.97,687.23 167.80,689.70 C167.63,692.17 166.55,695.80 165.50,697.60 C164.45,699.40 163.47,700.12 161.50,700.50 C159.53,700.88 156.32,700.45 153.70,699.90 C151.08,699.35 148.27,698.25 145.80,697.20 C143.33,696.15 140.55,695.02 138.90,693.60 C137.25,692.18 135.90,690.50 135.90,688.70 Z" fill="#5db28b" stroke="#222" stroke-width="1.0"/>
<ellipse cx="151.70" cy="689.30" rx="8.9" ry="6.9" fill="#3a9a68" stroke="#222" stroke-width="1.0"/>
<path d="M181.60,697.60 C181.83,695.80 182.62,692.75 184.20,690.70 C185.78,688.65 188.80,686.62 191.10,685.30 C193.40,683.98 195.53,682.88 198.00,682.80 C200.47,682.72 203.60,683.48 205.90,684.80 C208.20,686.12 210.48,688.57 211.80,690.70 C213.12,692.83 213.80,695.15 213.80,697.60 C213.80,700.05 213.12,703.43 211.80,705.40 C210.48,707.37 208.37,708.80 205.90,709.40 C203.43,710.00 199.97,709.67 197.00,709.00 C194.03,708.33 190.47,706.65 188.10,705.40 C185.73,704.15 183.88,702.80 182.80,701.50 C181.72,700.20 181.37,699.40 181.60,697.60 Z" fill="#5db28b" stroke="#222" stroke-width="1.0"/>
<ellipse cx="197.00" cy="697.60" rx="8.9" ry="7.0" fill="#3a9a68" stroke="#222" stroke-width="1.0"/>
<path d="M225.60,686.70 C225.92,684.88 227.02,681.93 228.50,679.80 C229.98,677.67 232.03,675.28 234.50,673.90 C236.97,672.52 240.52,671.50 243.30,671.50 C246.08,671.50 248.90,672.35 251.20,673.90 C253.50,675.45 256.02,678.33 257.10,680.80 C258.18,683.27 258.18,686.07 257.70,688.70 C257.22,691.33 255.78,694.87 254.20,696.60 C252.62,698.33 250.50,698.87 248.20,699.10 C245.90,699.33 243.02,698.75 240.40,698.00 C237.78,697.25 234.80,695.82 232.50,694.60 C230.20,693.38 227.75,692.02 226.60,690.70 C225.45,689.38 225.28,688.52 225.60,686.70 Z" fill="#5db28b" stroke="#222" stroke-width="1.0"/>
<ellipse cx="241.40" cy="686.70" rx="9.0" ry="7.0" fill="#3a9a68" stroke="#222" stroke-width="1.0"/>
<path d="M148.00,562.20 C149.17,563.67 152.55,566.98 155.00,571.00 C157.45,575.02 160.68,580.83 162.70,586.30 C164.72,591.77 166.37,598.70 167.10,603.80 C167.83,608.90 167.65,612.88 167.10,616.90 C166.55,620.92 165.45,624.25 163.80,627.90 C162.15,631.55 159.75,635.52 157.20,638.80 C154.65,642.08 151.42,644.68 148.50,647.60 C145.58,650.52 142.45,653.20 139.70,656.30 C136.95,659.40 133.90,662.55 132.00,666.20 C130.10,669.85 128.87,674.73 128.30,678.20 C127.73,681.67 128.18,684.08 128.60,687.00 C129.02,689.92 129.58,692.13 130.80,695.70 C132.02,699.27 134.20,705.10 135.90,708.40 C137.60,711.70 139.18,713.23 141.00,715.50 C142.82,717.77 145.83,720.92 146.80,722.00" fill="none" stroke="#222" stroke-width="1.0"/>
<path d="M242.60,562.20 C243.88,563.67 247.73,566.62 250.30,571.00 C252.87,575.38 256.18,582.67 258.00,588.50 C259.82,594.33 260.85,600.90 261.20,606.00 C261.55,611.10 261.37,614.72 260.10,619.10 C258.83,623.48 256.52,627.92 253.60,632.30 C250.68,636.68 245.88,641.75 242.60,645.40 C239.32,649.05 236.63,650.92 233.90,654.20 C231.17,657.48 228.13,661.10 226.20,665.10 C224.27,669.10 222.78,674.05 222.30,678.20 C221.82,682.35 222.60,686.37 223.30,690.00 C224.00,693.63 224.88,696.72 226.50,700.00 C228.12,703.28 231.17,707.03 233.00,709.70 C234.83,712.37 236.02,713.95 237.50,716.00 C238.98,718.05 241.17,721.00 241.90,722.00" fill="none" stroke="#222" stroke-width="1.0"/>
<line x1="420.80" y1="541.10" x2="420.80" y2="660.60" stroke="#a5a5a5" stroke-width="1" />
<line x1="416.20" y1="660.20" x2="599.90" y2="660.20" stroke="#5e5e5e" stroke-width="1" />
<line x1="416.00" y1="660.20" x2="420.80" y2="660.20" stroke="#777" stroke-width="0.9" />
<text x="410.90" y="662.90" font-size="9.4" text-anchor="end" textLength="5.33" lengthAdjust="spacingAndGlyphs" fill="#3e3e3e">0</text>
<line x1="416.00" y1="648.34" x2="420.80" y2="648.34" stroke="#777" stroke-width="0.9" />
<text x="410.90" y="651.04" font-size="9.4" text-anchor="end" textLength="10.66" lengthAdjust="spacingAndGlyphs" fill="#3e3e3e">10</text>
<line x1="416.00" y1="636.48" x2="420.80" y2="636.48" stroke="#777" stroke-width="0.9" />
<text x="410.90" y="639.18" font-size="9.4" text-anchor="end" textLength="10.66" lengthAdjust="spacingAndGlyphs" fill="#3e3e3e">20</text>
<line x1="416.00" y1="624.62" x2="420.80" y2="624.62" stroke="#777" stroke-width="0.9" />
<text x="410.90" y="627.32" font-size="9.4" text-anchor="end" textLength="10.66" lengthAdjust="spacingAndGlyphs" fill="#3e3e3e">30</text>
<line x1="416.00" y1="612.76" x2="420.80" y2="612.76" stroke="#777" stroke-width="0.9" />
<text x="410.90" y="615.46" font-size="9.4" text-anchor="end" textLength="10.66" lengthAdjust="spacingAndGlyphs" fill="#3e3e3e">40</text>
<line x1="416.00" y1="600.90" x2="420.80" y2="600.90" stroke="#777" stroke-width="0.9" />
<text x="410.90" y="603.60" font-size="9.4" text-anchor="end" textLength="10.66" lengthAdjust="spacingAndGlyphs" fill="#3e3e3e">50</text>
<line x1="416.00" y1="589.04" x2="420.80" y2="589.04" stroke="#777" stroke-width="0.9" />
<text x="410.90" y="591.74" font-size="9.4" text-anchor="end" textLength="10.66" lengthAdjust="spacingAndGlyphs" fill="#3e3e3e">60</text>
<line x1="416.00" y1="577.18" x2="420.80" y2="577.18" stroke="#777" stroke-width="0.9" />
<text x="410.90" y="579.88" font-size="9.4" text-anchor="end" textLength="10.66" lengthAdjust="spacingAndGlyphs" fill="#3e3e3e">70</text>
<line x1="416.00" y1="565.32" x2="420.80" y2="565.32" stroke="#777" stroke-width="0.9" />
<text x="410.90" y="568.02" font-size="9.4" text-anchor="end" textLength="10.66" lengthAdjust="spacingAndGlyphs" fill="#3e3e3e">80</text>
<line x1="416.00" y1="553.46" x2="420.80" y2="553.46" stroke="#777" stroke-width="0.9" />
<text x="410.90" y="556.16" font-size="9.4" text-anchor="end" textLength="10.66" lengthAdjust="spacingAndGlyphs" fill="#3e3e3e">90</text>
<line x1="416.00" y1="541.60" x2="420.80" y2="541.60" stroke="#777" stroke-width="0.9" />
<text x="410.90" y="544.30" font-size="9.4" text-anchor="end" textLength="16.00" lengthAdjust="spacingAndGlyphs" fill="#3e3e3e">100</text>
<line x1="420.80" y1="660.20" x2="420.80" y2="664.70" stroke="#777" stroke-width="0.8" />
<line x1="429.73" y1="660.20" x2="429.73" y2="662.80" stroke="#777" stroke-width="0.8" />
<line x1="438.66" y1="660.20" x2="438.66" y2="662.80" stroke="#777" stroke-width="0.8" />
<line x1="447.59" y1="660.20" x2="447.59" y2="662.80" stroke="#777" stroke-width="0.8" />
<line x1="456.52" y1="660.20" x2="456.52" y2="662.80" stroke="#777" stroke-width="0.8" />
<line x1="465.45" y1="660.20" x2="465.45" y2="662.80" stroke="#777" stroke-width="0.8" />
<line x1="474.38" y1="660.20" x2="474.38" y2="662.80" stroke="#777" stroke-width="0.8" />
<line x1="483.31" y1="660.20" x2="483.31" y2="662.80" stroke="#777" stroke-width="0.8" />
<line x1="492.24" y1="660.20" x2="492.24" y2="662.80" stroke="#777" stroke-width="0.8" />
<line x1="501.17" y1="660.20" x2="501.17" y2="662.80" stroke="#777" stroke-width="0.8" />
<line x1="510.10" y1="660.20" x2="510.10" y2="664.70" stroke="#777" stroke-width="0.8" />
<line x1="519.03" y1="660.20" x2="519.03" y2="662.80" stroke="#777" stroke-width="0.8" />
<line x1="527.96" y1="660.20" x2="527.96" y2="662.80" stroke="#777" stroke-width="0.8" />
<line x1="536.89" y1="660.20" x2="536.89" y2="662.80" stroke="#777" stroke-width="0.8" />
<line x1="545.82" y1="660.20" x2="545.82" y2="662.80" stroke="#777" stroke-width="0.8" />
<line x1="554.75" y1="660.20" x2="554.75" y2="662.80" stroke="#777" stroke-width="0.8" />
<line x1="563.68" y1="660.20" x2="563.68" y2="662.80" stroke="#777" stroke-width="0.8" />
<line x1="572.61" y1="660.20" x2="572.61" y2="662.80" stroke="#777" stroke-width="0.8" />
<line x1="581.54" y1="660.20" x2="581.54" y2="662.80" stroke="#777" stroke-width="0.8" />
<line x1="590.47" y1="660.20" x2="590.47" y2="662.80" stroke="#777" stroke-width="0.8" />
<line x1="599.40" y1="660.20" x2="599.40" y2="664.70" stroke="#777" stroke-width="0.8" />
<text x="420.80" y="676.60" font-size="10.0" text-anchor="middle" fill="#3e3e3e">0</text>
<text x="510.10" y="676.60" font-size="10.0" text-anchor="middle" textLength="16.60" lengthAdjust="spacingAndGlyphs" fill="#3e3e3e">500</text>
<text x="599.40" y="676.60" font-size="10.0" text-anchor="middle" textLength="25.30" lengthAdjust="spacingAndGlyphs" fill="#3e3e3e">1,000</text>
<polyline points="420.80,541.40 420.98,541.42 421.16,541.45 421.34,541.47 421.51,541.50 421.69,541.52 421.87,541.54 422.05,541.57 422.23,541.59" fill="none" stroke="#3aaa52" stroke-width="2.8" stroke-linecap="round"/>
<circle cx="422.23" cy="541.59" r="1.2" fill="#3aaa52"/>
<circle cx="422.76" cy="543.57" r="1.2" fill="#3aaa52"/>
<circle cx="423.30" cy="545.85" r="1.2" fill="#3aaa52"/>
<circle cx="423.66" cy="547.85" r="1.2" fill="#3aaa52"/>
<circle cx="424.01" cy="550.46" r="1.2" fill="#3aaa52"/>
<circle cx="424.37" cy="553.07" r="1.2" fill="#3aaa52"/>
<circle cx="424.73" cy="555.80" r="1.2" fill="#3aaa52"/>
<circle cx="425.09" cy="558.62" r="1.2" fill="#3aaa52"/>
<circle cx="425.44" cy="561.22" r="1.2" fill="#3aaa52"/>
<circle cx="425.80" cy="563.52" r="1.2" fill="#3aaa52"/>
<circle cx="426.16" cy="565.41" r="1.2" fill="#3aaa52"/>
<circle cx="426.69" cy="567.50" r="1.2" fill="#3aaa52"/>
<circle cx="427.41" cy="569.36" r="1.2" fill="#3aaa52"/>
<polyline points="427.94,570.48 428.00,570.60 429.50,572.30 431.50,573.80 434.00,575.20 438.40,577.60 444.20,580.50 451.50,583.90 458.80,587.30 466.10,590.20 473.40,593.10 480.70,596.60 488.00,599.20 495.30,602.20 502.60,604.30 509.90,606.50 514.20,607.30 520.30,609.40 528.00,612.20 534.10,614.50 540.30,617.10 549.50,619.50 560.20,622.20 569.40,624.10 578.60,625.50 583.90,626.00 590.80,627.80 599.30,629.40" fill="none" stroke="#3aaa52" stroke-width="2.8" stroke-linejoin="round" stroke-linecap="round"/>
<circle cx="420.80" cy="541.40" r="1.2" fill="#1d4fae"/>
<circle cx="422.23" cy="543.31" r="1.2" fill="#1d4fae"/>
<circle cx="422.76" cy="545.60" r="1.2" fill="#1d4fae"/>
<circle cx="422.94" cy="547.55" r="1.2" fill="#1d4fae"/>
<circle cx="423.12" cy="549.50" r="1.2" fill="#1d4fae"/>
<circle cx="423.30" cy="551.45" r="1.2" fill="#1d4fae"/>
<circle cx="423.48" cy="553.40" r="1.2" fill="#1d4fae"/>
<circle cx="423.66" cy="555.35" r="1.2" fill="#1d4fae"/>
<circle cx="423.84" cy="557.51" r="1.2" fill="#1d4fae"/>
<circle cx="424.01" cy="560.49" r="1.2" fill="#1d4fae"/>
<circle cx="424.19" cy="563.48" r="1.2" fill="#1d4fae"/>
<circle cx="424.37" cy="566.46" r="1.2" fill="#1d4fae"/>
<circle cx="424.55" cy="569.12" r="1.2" fill="#1d4fae"/>
<circle cx="424.73" cy="570.94" r="1.2" fill="#1d4fae"/>
<circle cx="424.91" cy="572.76" r="1.2" fill="#1d4fae"/>
<circle cx="425.09" cy="574.58" r="1.2" fill="#1d4fae"/>
<circle cx="425.27" cy="576.40" r="1.2" fill="#1d4fae"/>
<circle cx="425.44" cy="578.22" r="1.2" fill="#1d4fae"/>
<circle cx="425.80" cy="581.01" r="1.2" fill="#1d4fae"/>
<circle cx="426.16" cy="583.63" r="1.2" fill="#1d4fae"/>
<circle cx="426.52" cy="586.24" r="1.2" fill="#1d4fae"/>
<circle cx="426.87" cy="588.28" r="1.2" fill="#1d4fae"/>
<circle cx="427.41" cy="590.40" r="1.2" fill="#1d4fae"/>
<circle cx="427.94" cy="592.52" r="1.2" fill="#1d4fae"/>
<circle cx="428.48" cy="594.64" r="1.2" fill="#1d4fae"/>
<circle cx="429.02" cy="596.53" r="1.2" fill="#1d4fae"/>
<circle cx="429.91" cy="598.35" r="1.2" fill="#1d4fae"/>
<circle cx="430.80" cy="600.16" r="1.2" fill="#1d4fae"/>
<circle cx="431.69" cy="601.97" r="1.2" fill="#1d4fae"/>
<polyline points="432.41,603.42 432.50,603.60 436.90,608.00 444.20,614.60 451.50,619.70 455.90,621.90 461.70,623.30 466.10,624.80 473.40,627.70 480.70,629.90 488.00,632.10 495.30,634.00 502.60,635.70 507.00,637.00 512.70,637.90 520.30,639.50 526.50,641.30 534.10,642.80 541.80,644.40 551.00,645.60 560.20,647.00 569.40,647.90 578.60,649.00 586.20,650.20 592.40,650.80 599.30,651.30" fill="none" stroke="#1d4fae" stroke-width="2.8" stroke-linejoin="round" stroke-linecap="round"/>
<text x="388.60" y="600.50" font-size="10.9" text-anchor="middle" textLength="77.00" lengthAdjust="spacingAndGlyphs" fill="#3e3e3e" transform="rotate(-90 388.60 600.50)">Bound cells (%)</text>
<circle cx="461.3" cy="550.9" r="1.3" fill="#3aaa52"/>
<circle cx="461.3" cy="563.7" r="1.3" fill="#1d4fae"/>
<text x="466.80" y="554.00" font-size="9.5" textLength="45.00" lengthAdjust="spacingAndGlyphs" fill="#3e3e3e">DROP-CAR</text>
<text x="466.80" y="566.80" font-size="9.5" textLength="101.20" lengthAdjust="spacingAndGlyphs" fill="#3e3e3e">DROP-CAR + 5 µM Vene</text>
<line x1="420.80" y1="689.10" x2="420.80" y2="809.00" stroke="#a5a5a5" stroke-width="1" />
<line x1="416.20" y1="808.60" x2="599.90" y2="808.60" stroke="#5e5e5e" stroke-width="1" />
<line x1="416.00" y1="808.60" x2="420.80" y2="808.60" stroke="#777" stroke-width="0.9" />
<text x="410.90" y="811.30" font-size="9.4" text-anchor="end" textLength="5.33" lengthAdjust="spacingAndGlyphs" fill="#3e3e3e">0</text>
<line x1="416.00" y1="796.70" x2="420.80" y2="796.70" stroke="#777" stroke-width="0.9" />
<text x="410.90" y="799.40" font-size="9.4" text-anchor="end" textLength="10.66" lengthAdjust="spacingAndGlyphs" fill="#3e3e3e">10</text>
<line x1="416.00" y1="784.80" x2="420.80" y2="784.80" stroke="#777" stroke-width="0.9" />
<text x="410.90" y="787.50" font-size="9.4" text-anchor="end" textLength="10.66" lengthAdjust="spacingAndGlyphs" fill="#3e3e3e">20</text>
<line x1="416.00" y1="772.90" x2="420.80" y2="772.90" stroke="#777" stroke-width="0.9" />
<text x="410.90" y="775.60" font-size="9.4" text-anchor="end" textLength="10.66" lengthAdjust="spacingAndGlyphs" fill="#3e3e3e">30</text>
<line x1="416.00" y1="761.00" x2="420.80" y2="761.00" stroke="#777" stroke-width="0.9" />
<text x="410.90" y="763.70" font-size="9.4" text-anchor="end" textLength="10.66" lengthAdjust="spacingAndGlyphs" fill="#3e3e3e">40</text>
<line x1="416.00" y1="749.10" x2="420.80" y2="749.10" stroke="#777" stroke-width="0.9" />
<text x="410.90" y="751.80" font-size="9.4" text-anchor="end" textLength="10.66" lengthAdjust="spacingAndGlyphs" fill="#3e3e3e">50</text>
<line x1="416.00" y1="737.20" x2="420.80" y2="737.20" stroke="#777" stroke-width="0.9" />
<text x="410.90" y="739.90" font-size="9.4" text-anchor="end" textLength="10.66" lengthAdjust="spacingAndGlyphs" fill="#3e3e3e">60</text>
<line x1="416.00" y1="725.30" x2="420.80" y2="725.30" stroke="#777" stroke-width="0.9" />
<text x="410.90" y="728.00" font-size="9.4" text-anchor="end" textLength="10.66" lengthAdjust="spacingAndGlyphs" fill="#3e3e3e">70</text>
<line x1="416.00" y1="713.40" x2="420.80" y2="713.40" stroke="#777" stroke-width="0.9" />
<text x="410.90" y="716.10" font-size="9.4" text-anchor="end" textLength="10.66" lengthAdjust="spacingAndGlyphs" fill="#3e3e3e">80</text>
<line x1="416.00" y1="701.50" x2="420.80" y2="701.50" stroke="#777" stroke-width="0.9" />
<text x="410.90" y="704.20" font-size="9.4" text-anchor="end" textLength="10.66" lengthAdjust="spacingAndGlyphs" fill="#3e3e3e">90</text>
<line x1="416.00" y1="689.60" x2="420.80" y2="689.60" stroke="#777" stroke-width="0.9" />
<text x="410.90" y="692.30" font-size="9.4" text-anchor="end" textLength="16.00" lengthAdjust="spacingAndGlyphs" fill="#3e3e3e">100</text>
<line x1="420.80" y1="808.60" x2="420.80" y2="813.10" stroke="#777" stroke-width="0.8" />
<line x1="429.73" y1="808.60" x2="429.73" y2="811.20" stroke="#777" stroke-width="0.8" />
<line x1="438.66" y1="808.60" x2="438.66" y2="811.20" stroke="#777" stroke-width="0.8" />
<line x1="447.59" y1="808.60" x2="447.59" y2="811.20" stroke="#777" stroke-width="0.8" />
<line x1="456.52" y1="808.60" x2="456.52" y2="811.20" stroke="#777" stroke-width="0.8" />
<line x1="465.45" y1="808.60" x2="465.45" y2="811.20" stroke="#777" stroke-width="0.8" />
<line x1="474.38" y1="808.60" x2="474.38" y2="811.20" stroke="#777" stroke-width="0.8" />
<line x1="483.31" y1="808.60" x2="483.31" y2="811.20" stroke="#777" stroke-width="0.8" />
<line x1="492.24" y1="808.60" x2="492.24" y2="811.20" stroke="#777" stroke-width="0.8" />
<line x1="501.17" y1="808.60" x2="501.17" y2="811.20" stroke="#777" stroke-width="0.8" />
<line x1="510.10" y1="808.60" x2="510.10" y2="813.10" stroke="#777" stroke-width="0.8" />
<line x1="519.03" y1="808.60" x2="519.03" y2="811.20" stroke="#777" stroke-width="0.8" />
<line x1="527.96" y1="808.60" x2="527.96" y2="811.20" stroke="#777" stroke-width="0.8" />
<line x1="536.89" y1="808.60" x2="536.89" y2="811.20" stroke="#777" stroke-width="0.8" />
<line x1="545.82" y1="808.60" x2="545.82" y2="811.20" stroke="#777" stroke-width="0.8" />
<line x1="554.75" y1="808.60" x2="554.75" y2="811.20" stroke="#777" stroke-width="0.8" />
<line x1="563.68" y1="808.60" x2="563.68" y2="811.20" stroke="#777" stroke-width="0.8" />
<line x1="572.61" y1="808.60" x2="572.61" y2="811.20" stroke="#777" stroke-width="0.8" />
<line x1="581.54" y1="808.60" x2="581.54" y2="811.20" stroke="#777" stroke-width="0.8" />
<line x1="590.47" y1="808.60" x2="590.47" y2="811.20" stroke="#777" stroke-width="0.8" />
<line x1="599.40" y1="808.60" x2="599.40" y2="813.10" stroke="#777" stroke-width="0.8" />
<text x="420.80" y="825.00" font-size="10.0" text-anchor="middle" fill="#3e3e3e">0</text>
<text x="510.10" y="825.00" font-size="10.0" text-anchor="middle" textLength="16.60" lengthAdjust="spacingAndGlyphs" fill="#3e3e3e">500</text>
<text x="599.40" y="825.00" font-size="10.0" text-anchor="middle" textLength="25.30" lengthAdjust="spacingAndGlyphs" fill="#3e3e3e">1,000</text>
<polyline points="420.80,689.60 420.98,689.62 421.16,689.64 421.34,689.66 421.51,689.68 421.69,689.70 421.87,689.72 422.05,689.74 422.23,689.76 422.41,689.78 422.59,689.80 422.76,690.06" fill="none" stroke="#f28a2e" stroke-width="2.8" stroke-linecap="round"/>
<circle cx="422.76" cy="690.06" r="1.2" fill="#f28a2e"/>
<circle cx="424.01" cy="692.03" r="1.2" fill="#f28a2e"/>
<circle cx="425.09" cy="693.95" r="1.2" fill="#f28a2e"/>
<circle cx="425.98" cy="695.69" r="1.2" fill="#f28a2e"/>
<polyline points="426.69,697.09 426.70,697.10 429.60,699.80 434.00,700.80 444.20,703.00 458.80,705.60 473.40,707.40 480.70,708.80 491.90,710.30 505.50,712.60 513.80,714.20 535.70,719.00 557.60,723.80 579.50,730.00 599.60,734.70" fill="none" stroke="#f28a2e" stroke-width="2.8" stroke-linejoin="round" stroke-linecap="round"/>
<polyline points="420.80,689.60 420.98,689.68 421.16,689.76 421.34,689.84 421.51,689.92 421.69,690.01 421.87,690.09 422.05,690.17 422.23,690.25 422.41,690.33 422.59,690.41 422.76,690.49 422.94,690.57 423.12,690.88" fill="none" stroke="#6a45a0" stroke-width="2.8" stroke-linecap="round"/>
<circle cx="423.12" cy="690.88" r="1.2" fill="#6a45a0"/>
<circle cx="424.01" cy="692.95" r="1.2" fill="#6a45a0"/>
<circle cx="424.91" cy="695.02" r="1.2" fill="#6a45a0"/>
<circle cx="425.80" cy="696.90" r="1.2" fill="#6a45a0"/>
<circle cx="426.69" cy="698.69" r="1.2" fill="#6a45a0"/>
<polyline points="427.23,699.76 427.40,700.10 430.30,701.80 436.90,703.00 451.50,705.90 466.10,708.80 476.30,711.00 488.00,713.60 499.70,716.40 508.40,718.00 513.80,719.00 535.70,723.80 557.60,729.90 579.50,734.30 599.60,739.60" fill="none" stroke="#6a45a0" stroke-width="2.8" stroke-linejoin="round" stroke-linecap="round"/>
<text x="388.60" y="748.60" font-size="10.9" text-anchor="middle" textLength="76.50" lengthAdjust="spacingAndGlyphs" fill="#3e3e3e" transform="rotate(-90 388.60 748.60)">Bound cells (%)</text>
<circle cx="461.8" cy="741.6" r="1.3" fill="#f28a2e"/>
<circle cx="461.8" cy="754.8" r="1.3" fill="#6a45a0"/>
<text x="467.40" y="744.60" font-size="9.5" fill="#3e3e3e">2G</text>
<text x="467.40" y="757.70" font-size="9.5" textLength="66.80" lengthAdjust="spacingAndGlyphs" fill="#3e3e3e">2G + 5 µM Vene</text>
<line x1="420.80" y1="841.60" x2="420.80" y2="961.20" stroke="#a5a5a5" stroke-width="1" />
<line x1="416.20" y1="960.80" x2="599.90" y2="960.80" stroke="#5e5e5e" stroke-width="1" />
<line x1="416.00" y1="960.80" x2="420.80" y2="960.80" stroke="#777" stroke-width="0.9" />
<text x="410.90" y="963.50" font-size="9.4" text-anchor="end" textLength="5.33" lengthAdjust="spacingAndGlyphs" fill="#3e3e3e">0</text>
<line x1="416.00" y1="948.93" x2="420.80" y2="948.93" stroke="#777" stroke-width="0.9" />
<text x="410.90" y="951.63" font-size="9.4" text-anchor="end" textLength="10.66" lengthAdjust="spacingAndGlyphs" fill="#3e3e3e">10</text>
<line x1="416.00" y1="937.06" x2="420.80" y2="937.06" stroke="#777" stroke-width="0.9" />
<text x="410.90" y="939.76" font-size="9.4" text-anchor="end" textLength="10.66" lengthAdjust="spacingAndGlyphs" fill="#3e3e3e">20</text>
<line x1="416.00" y1="925.19" x2="420.80" y2="925.19" stroke="#777" stroke-width="0.9" />
<text x="410.90" y="927.89" font-size="9.4" text-anchor="end" textLength="10.66" lengthAdjust="spacingAndGlyphs" fill="#3e3e3e">30</text>
<line x1="416.00" y1="913.32" x2="420.80" y2="913.32" stroke="#777" stroke-width="0.9" />
<text x="410.90" y="916.02" font-size="9.4" text-anchor="end" textLength="10.66" lengthAdjust="spacingAndGlyphs" fill="#3e3e3e">40</text>
<line x1="416.00" y1="901.45" x2="420.80" y2="901.45" stroke="#777" stroke-width="0.9" />
<text x="410.90" y="904.15" font-size="9.4" text-anchor="end" textLength="10.66" lengthAdjust="spacingAndGlyphs" fill="#3e3e3e">50</text>
<line x1="416.00" y1="889.58" x2="420.80" y2="889.58" stroke="#777" stroke-width="0.9" />
<text x="410.90" y="892.28" font-size="9.4" text-anchor="end" textLength="10.66" lengthAdjust="spacingAndGlyphs" fill="#3e3e3e">60</text>
<line x1="416.00" y1="877.71" x2="420.80" y2="877.71" stroke="#777" stroke-width="0.9" />
<text x="410.90" y="880.41" font-size="9.4" text-anchor="end" textLength="10.66" lengthAdjust="spacingAndGlyphs" fill="#3e3e3e">70</text>
<line x1="416.00" y1="865.84" x2="420.80" y2="865.84" stroke="#777" stroke-width="0.9" />
<text x="410.90" y="868.54" font-size="9.4" text-anchor="end" textLength="10.66" lengthAdjust="spacingAndGlyphs" fill="#3e3e3e">80</text>
<line x1="416.00" y1="853.97" x2="420.80" y2="853.97" stroke="#777" stroke-width="0.9" />
<text x="410.90" y="856.67" font-size="9.4" text-anchor="end" textLength="10.66" lengthAdjust="spacingAndGlyphs" fill="#3e3e3e">90</text>
<line x1="416.00" y1="842.10" x2="420.80" y2="842.10" stroke="#777" stroke-width="0.9" />
<text x="410.90" y="844.80" font-size="9.4" text-anchor="end" textLength="16.00" lengthAdjust="spacingAndGlyphs" fill="#3e3e3e">100</text>
<line x1="420.80" y1="960.80" x2="420.80" y2="965.30" stroke="#777" stroke-width="0.8" />
<line x1="429.73" y1="960.80" x2="429.73" y2="963.40" stroke="#777" stroke-width="0.8" />
<line x1="438.66" y1="960.80" x2="438.66" y2="963.40" stroke="#777" stroke-width="0.8" />
<line x1="447.59" y1="960.80" x2="447.59" y2="963.40" stroke="#777" stroke-width="0.8" />
<line x1="456.52" y1="960.80" x2="456.52" y2="963.40" stroke="#777" stroke-width="0.8" />
<line x1="465.45" y1="960.80" x2="465.45" y2="963.40" stroke="#777" stroke-width="0.8" />
<line x1="474.38" y1="960.80" x2="474.38" y2="963.40" stroke="#777" stroke-width="0.8" />
<line x1="483.31" y1="960.80" x2="483.31" y2="963.40" stroke="#777" stroke-width="0.8" />
<line x1="492.24" y1="960.80" x2="492.24" y2="963.40" stroke="#777" stroke-width="0.8" />
<line x1="501.17" y1="960.80" x2="501.17" y2="963.40" stroke="#777" stroke-width="0.8" />
<line x1="510.10" y1="960.80" x2="510.10" y2="965.30" stroke="#777" stroke-width="0.8" />
<line x1="519.03" y1="960.80" x2="519.03" y2="963.40" stroke="#777" stroke-width="0.8" />
<line x1="527.96" y1="960.80" x2="527.96" y2="963.40" stroke="#777" stroke-width="0.8" />
<line x1="536.89" y1="960.80" x2="536.89" y2="963.40" stroke="#777" stroke-width="0.8" />
<line x1="545.82" y1="960.80" x2="545.82" y2="963.40" stroke="#777" stroke-width="0.8" />
<line x1="554.75" y1="960.80" x2="554.75" y2="963.40" stroke="#777" stroke-width="0.8" />
<line x1="563.68" y1="960.80" x2="563.68" y2="963.40" stroke="#777" stroke-width="0.8" />
<line x1="572.61" y1="960.80" x2="572.61" y2="963.40" stroke="#777" stroke-width="0.8" />
<line x1="581.54" y1="960.80" x2="581.54" y2="963.40" stroke="#777" stroke-width="0.8" />
<line x1="590.47" y1="960.80" x2="590.47" y2="963.40" stroke="#777" stroke-width="0.8" />
<line x1="599.40" y1="960.80" x2="599.40" y2="965.30" stroke="#777" stroke-width="0.8" />
<text x="420.80" y="977.20" font-size="10.0" text-anchor="middle" fill="#3e3e3e">0</text>
<text x="510.10" y="977.20" font-size="10.0" text-anchor="middle" textLength="16.60" lengthAdjust="spacingAndGlyphs" fill="#3e3e3e">500</text>
<text x="599.40" y="977.20" font-size="10.0" text-anchor="middle" textLength="25.30" lengthAdjust="spacingAndGlyphs" fill="#3e3e3e">1,000</text>
<circle cx="422.60" cy="843.80" r="1.2" fill="#1a1a1a"/>
<circle cx="422.78" cy="845.55" r="1.2" fill="#1a1a1a"/>
<circle cx="422.96" cy="847.29" r="1.2" fill="#1a1a1a"/>
<circle cx="423.14" cy="849.04" r="1.2" fill="#1a1a1a"/>
<circle cx="423.31" cy="850.79" r="1.2" fill="#1a1a1a"/>
<circle cx="423.49" cy="852.53" r="1.2" fill="#1a1a1a"/>
<circle cx="423.67" cy="854.61" r="1.2" fill="#1a1a1a"/>
<circle cx="423.85" cy="856.70" r="1.2" fill="#1a1a1a"/>
<circle cx="424.03" cy="858.79" r="1.2" fill="#1a1a1a"/>
<circle cx="424.21" cy="860.88" r="1.2" fill="#1a1a1a"/>
<circle cx="424.39" cy="862.97" r="1.2" fill="#1a1a1a"/>
<circle cx="424.56" cy="865.24" r="1.2" fill="#1a1a1a"/>
<circle cx="424.74" cy="867.84" r="1.2" fill="#1a1a1a"/>
<circle cx="424.92" cy="870.45" r="1.2" fill="#1a1a1a"/>
<circle cx="425.10" cy="873.05" r="1.2" fill="#1a1a1a"/>
<circle cx="425.28" cy="875.12" r="1.2" fill="#1a1a1a"/>
<circle cx="425.64" cy="877.90" r="1.2" fill="#1a1a1a"/>
<circle cx="425.99" cy="880.69" r="1.2" fill="#1a1a1a"/>
<circle cx="426.35" cy="883.47" r="1.2" fill="#1a1a1a"/>
<circle cx="426.71" cy="886.24" r="1.2" fill="#1a1a1a"/>
<circle cx="427.24" cy="888.72" r="1.2" fill="#1a1a1a"/>
<circle cx="427.78" cy="891.20" r="1.2" fill="#1a1a1a"/>
<circle cx="428.32" cy="893.69" r="1.2" fill="#1a1a1a"/>
<circle cx="428.85" cy="896.17" r="1.2" fill="#1a1a1a"/>
<circle cx="429.74" cy="898.11" r="1.2" fill="#1a1a1a"/>
<circle cx="430.64" cy="899.92" r="1.2" fill="#1a1a1a"/>
<circle cx="431.53" cy="901.73" r="1.2" fill="#1a1a1a"/>
<circle cx="432.42" cy="903.54" r="1.2" fill="#1a1a1a"/>
<polyline points="432.42,903.54 432.50,903.70 438.40,908.10 444.20,912.50 451.50,917.60 458.80,921.90 466.10,925.60 473.40,929.20 480.70,932.60 488.00,934.40 495.30,936.10 505.00,939.50 512.70,941.10 520.30,943.00 528.00,944.90 535.70,946.40 547.90,948.00 558.60,950.00 569.40,951.80 581.60,953.60 590.80,954.50 599.30,955.60" fill="none" stroke="#1a1a1a" stroke-width="2.8" stroke-linejoin="round" stroke-linecap="round"/>
<polyline points="420.80,841.90 420.98,841.92 421.16,841.94 421.34,841.96 421.51,841.98 421.69,842.00 421.87,842.02 422.05,842.04 422.23,842.06 422.41,842.08 422.59,842.10" fill="none" stroke="#e8372f" stroke-width="2.8" stroke-linecap="round"/>
<circle cx="422.59" cy="842.10" r="1.2" fill="#e8372f"/>
<circle cx="422.94" cy="845.00" r="1.2" fill="#e8372f"/>
<circle cx="423.30" cy="848.01" r="1.2" fill="#e8372f"/>
<circle cx="423.66" cy="852.92" r="1.2" fill="#e8372f"/>
<circle cx="423.84" cy="856.56" r="1.2" fill="#e8372f"/>
<circle cx="424.01" cy="860.15" r="1.2" fill="#e8372f"/>
<circle cx="424.19" cy="863.19" r="1.2" fill="#e8372f"/>
<circle cx="424.37" cy="866.22" r="1.2" fill="#e8372f"/>
<circle cx="424.55" cy="869.26" r="1.2" fill="#e8372f"/>
<circle cx="424.73" cy="872.30" r="1.2" fill="#e8372f"/>
<circle cx="424.91" cy="875.33" r="1.2" fill="#e8372f"/>
<circle cx="425.09" cy="878.37" r="1.2" fill="#e8372f"/>
<circle cx="425.27" cy="880.78" r="1.2" fill="#e8372f"/>
<circle cx="425.62" cy="883.40" r="1.2" fill="#e8372f"/>
<circle cx="425.98" cy="886.02" r="1.2" fill="#e8372f"/>
<circle cx="426.34" cy="888.64" r="1.2" fill="#e8372f"/>
<circle cx="426.69" cy="890.62" r="1.2" fill="#e8372f"/>
<circle cx="427.05" cy="892.47" r="1.2" fill="#e8372f"/>
<circle cx="427.41" cy="894.32" r="1.2" fill="#e8372f"/>
<circle cx="427.77" cy="896.17" r="1.2" fill="#e8372f"/>
<circle cx="428.12" cy="897.95" r="1.2" fill="#e8372f"/>
<circle cx="429.02" cy="899.88" r="1.2" fill="#e8372f"/>
<circle cx="429.91" cy="901.82" r="1.2" fill="#e8372f"/>
<circle cx="430.80" cy="903.75" r="1.2" fill="#e8372f"/>
<polyline points="430.98,904.14 431.10,904.40 435.40,908.10 439.80,913.20 444.20,916.80 448.60,920.50 453.00,923.40 458.80,926.00 466.10,928.50 473.40,931.10 480.70,933.60 488.00,935.50 495.30,938.20 505.00,942.30 511.10,943.80 517.30,945.70 528.00,947.20 535.70,948.40 547.90,950.00 558.60,951.00 569.40,952.10 581.60,953.00 590.80,953.60 599.30,954.90" fill="none" stroke="#e8372f" stroke-width="2.8" stroke-linejoin="round" stroke-linecap="round"/>
<text x="388.30" y="901.40" font-size="10.9" text-anchor="middle" textLength="77.00" lengthAdjust="spacingAndGlyphs" fill="#3e3e3e" transform="rotate(-90 388.30 901.40)">Bound cells (%)</text>
<circle cx="464.8" cy="850.3" r="1.3" fill="#e8372f"/>
<circle cx="464.8" cy="862.3" r="1.3" fill="#1a1a1a"/>
<text x="470.10" y="853.10" font-size="9.5" textLength="17.60" lengthAdjust="spacingAndGlyphs" fill="#3e3e3e">UTD</text>
<text x="470.10" y="865.50" font-size="9.5" textLength="72.70" lengthAdjust="spacingAndGlyphs" fill="#3e3e3e">UTD + 5 µM Vene</text>
<text x="510.00" y="993.50" font-size="10.9" text-anchor="middle" textLength="52.10" lengthAdjust="spacingAndGlyphs" fill="#3e3e3e">Force (pN)</text>
<line x1="89.50" y1="808.50" x2="89.50" y2="950.40" stroke="#7a7a7a" stroke-width="1" />
<line x1="85.20" y1="950.30" x2="322.20" y2="950.30" stroke="#7a7a7a" stroke-width="1" />
<line x1="85.20" y1="950.00" x2="89.60" y2="950.00" stroke="#777" stroke-width="0.9" />
<text x="80.70" y="952.90" font-size="9.2" text-anchor="end" textLength="5.42" lengthAdjust="spacingAndGlyphs" fill="#3e3e3e">0</text>
<line x1="85.20" y1="932.39" x2="89.60" y2="932.39" stroke="#777" stroke-width="0.9" />
<text x="80.70" y="935.29" font-size="9.2" text-anchor="end" textLength="10.85" lengthAdjust="spacingAndGlyphs" fill="#3e3e3e">10</text>
<line x1="85.20" y1="914.78" x2="89.60" y2="914.78" stroke="#777" stroke-width="0.9" />
<text x="80.70" y="917.68" font-size="9.2" text-anchor="end" textLength="10.85" lengthAdjust="spacingAndGlyphs" fill="#3e3e3e">20</text>
<line x1="85.20" y1="897.17" x2="89.60" y2="897.17" stroke="#777" stroke-width="0.9" />
<text x="80.70" y="900.07" font-size="9.2" text-anchor="end" textLength="10.85" lengthAdjust="spacingAndGlyphs" fill="#3e3e3e">30</text>
<line x1="85.20" y1="879.56" x2="89.60" y2="879.56" stroke="#777" stroke-width="0.9" />
<text x="80.70" y="882.46" font-size="9.2" text-anchor="end" textLength="10.85" lengthAdjust="spacingAndGlyphs" fill="#3e3e3e">40</text>
<line x1="85.20" y1="861.95" x2="89.60" y2="861.95" stroke="#777" stroke-width="0.9" />
<text x="80.70" y="864.85" font-size="9.2" text-anchor="end" textLength="10.85" lengthAdjust="spacingAndGlyphs" fill="#3e3e3e">50</text>
<line x1="85.20" y1="844.34" x2="89.60" y2="844.34" stroke="#777" stroke-width="0.9" />
<text x="80.70" y="847.24" font-size="9.2" text-anchor="end" textLength="10.85" lengthAdjust="spacingAndGlyphs" fill="#3e3e3e">60</text>
<line x1="85.20" y1="826.73" x2="89.60" y2="826.73" stroke="#777" stroke-width="0.9" />
<text x="80.70" y="829.63" font-size="9.2" text-anchor="end" textLength="10.85" lengthAdjust="spacingAndGlyphs" fill="#3e3e3e">70</text>
<line x1="85.20" y1="809.12" x2="89.60" y2="809.12" stroke="#777" stroke-width="0.9" />
<text x="80.70" y="812.02" font-size="9.2" text-anchor="end" textLength="10.85" lengthAdjust="spacingAndGlyphs" fill="#3e3e3e">80</text>
<text x="61.60" y="878.80" font-size="10.9" text-anchor="middle" textLength="76.40" lengthAdjust="spacingAndGlyphs" fill="#3e3e3e" transform="rotate(-90 61.60 878.80)">Bound cells (%)</text>
<text x="195.50" y="785.50" font-size="10.9" text-anchor="middle" textLength="142.90" lengthAdjust="spacingAndGlyphs" fill="#3e3e3e">End point analysis: 1,000 pN</text>
<rect x="100.3" y="905.3" width="19.40" height="44.70" fill="#1f5fad"/>
<rect x="130.9" y="938.0" width="19.20" height="12.00" fill="#ee473a"/>
<rect x="181.0" y="942.1" width="19.70" height="7.90" fill="#1f5fad"/>
<rect x="211.7" y="943.4" width="19.20" height="6.60" fill="#ee473a"/>
<rect x="262.6" y="841.1" width="19.20" height="108.90" fill="#1f5fad"/>
<rect x="293.0" y="849.0" width="18.90" height="101.00" fill="#ee473a"/>
<line x1="125.10" y1="950.00" x2="125.10" y2="956.00" stroke="#777" stroke-width="0.9" />
<text x="129.40" y="967.20" font-size="11.0" text-anchor="end" textLength="53.98" lengthAdjust="spacingAndGlyphs" fill="#3e3e3e" transform="rotate(-45 129.40 967.20)">DROP-CAR</text>
<line x1="206.00" y1="950.00" x2="206.00" y2="956.00" stroke="#777" stroke-width="0.9" />
<text x="210.30" y="967.20" font-size="11.0" text-anchor="end" textLength="20.80" lengthAdjust="spacingAndGlyphs" fill="#3e3e3e" transform="rotate(-45 210.30 967.20)">UTD</text>
<line x1="287.20" y1="950.00" x2="287.20" y2="956.00" stroke="#777" stroke-width="0.9" />
<text x="291.50" y="967.20" font-size="11.0" text-anchor="end" textLength="38.24" lengthAdjust="spacingAndGlyphs" fill="#3e3e3e" transform="rotate(-45 291.50 967.20)">2G-CAR</text>
<rect x="100.0" y="806.0" width="9.3" height="9.3" fill="#1f5fad"/>
<rect x="100.0" y="823.2" width="9.3" height="9.3" fill="#ee473a"/>
<text x="114.20" y="813.60" font-size="9.6" textLength="45.90" lengthAdjust="spacingAndGlyphs" fill="#3e3e3e">0 µM Vene</text>
<text x="114.20" y="830.80" font-size="9.6" textLength="45.90" lengthAdjust="spacingAndGlyphs" fill="#3e3e3e">5 µM Vene</text>
<polyline points="109.6,892.4 109.6,877.2 140.4,877.2 140.4,923.5" fill="none" stroke="#444" stroke-width="0.9"/>
<polyline points="190.7,927.6 190.7,898.2 221.5,898.2 221.5,930.3" fill="none" stroke="#444" stroke-width="0.9"/>
<polyline points="271.7,817.3 271.7,808.6 302.4,808.6 302.4,833.4" fill="none" stroke="#444" stroke-width="0.9"/>
<text x="104.20" y="873.10" font-size="9.6" textLength="40.50" lengthAdjust="spacingAndGlyphs" fill="#3e3e3e"><tspan font-style="italic">q</tspan> &lt; 0.001</text>
<text x="190.70" y="893.00" font-size="9.6" textLength="31.60" lengthAdjust="spacingAndGlyphs" fill="#3e3e3e"><tspan font-style="italic">q</tspan> = 0.51</text>
<text x="269.50" y="805.00" font-size="9.6" textLength="35.00" lengthAdjust="spacingAndGlyphs" fill="#3e3e3e"><tspan font-style="italic">q</tspan> = 0.39</text>
<line x1="109.90" y1="900.50" x2="109.90" y2="906.60" stroke="#000" stroke-width="1.0" stroke-opacity="0.42"/>
<line x1="104.65" y1="900.50" x2="115.15" y2="900.50" stroke="#000" stroke-width="1.0" stroke-opacity="0.42"/>
<line x1="104.65" y1="906.60" x2="115.15" y2="906.60" stroke="#000" stroke-width="1.0" stroke-opacity="0.42"/>
<circle cx="102.7" cy="906.8" r="2.75" fill="#1c1c1c"/>
<circle cx="109.9" cy="906.2" r="2.75" fill="#1c1c1c"/>
<circle cx="117.3" cy="906.8" r="2.75" fill="#1c1c1c"/>
<circle cx="109.9" cy="898.3" r="2.75" fill="#1c1c1c"/>
<line x1="140.30" y1="931.30" x2="140.30" y2="941.20" stroke="#000" stroke-width="1.0" stroke-opacity="0.42"/>
<line x1="135.05" y1="931.30" x2="145.55" y2="931.30" stroke="#000" stroke-width="1.0" stroke-opacity="0.42"/>
<line x1="135.05" y1="941.20" x2="145.55" y2="941.20" stroke="#000" stroke-width="1.0" stroke-opacity="0.42"/>
<circle cx="132.8" cy="939.5" r="2.75" fill="#1c1c1c"/>
<circle cx="140.3" cy="939.0" r="2.75" fill="#1c1c1c"/>
<circle cx="147.6" cy="938.9" r="2.75" fill="#1c1c1c"/>
<circle cx="140.3" cy="929.2" r="2.75" fill="#1c1c1c"/>
<line x1="190.80" y1="934.70" x2="190.80" y2="946.50" stroke="#000" stroke-width="1.0" stroke-opacity="0.42"/>
<line x1="185.55" y1="934.70" x2="196.05" y2="934.70" stroke="#000" stroke-width="1.0" stroke-opacity="0.42"/>
<line x1="185.55" y1="946.50" x2="196.05" y2="946.50" stroke="#000" stroke-width="1.0" stroke-opacity="0.42"/>
<circle cx="183.6" cy="940.3" r="2.75" fill="#1c1c1c"/>
<circle cx="190.7" cy="932.9" r="2.75" fill="#1c1c1c"/>
<circle cx="183.6" cy="946.0" r="2.75" fill="#1c1c1c"/>
<circle cx="198.1" cy="944.7" r="2.75" fill="#1c1c1c"/>
<line x1="221.00" y1="937.60" x2="221.00" y2="946.00" stroke="#000" stroke-width="1.0" stroke-opacity="0.42"/>
<line x1="215.75" y1="937.60" x2="226.25" y2="937.60" stroke="#000" stroke-width="1.0" stroke-opacity="0.42"/>
<line x1="215.75" y1="946.00" x2="226.25" y2="946.00" stroke="#000" stroke-width="1.0" stroke-opacity="0.42"/>
<circle cx="213.8" cy="944.7" r="2.75" fill="#1c1c1c"/>
<circle cx="220.9" cy="936.0" r="2.75" fill="#1c1c1c"/>
<circle cx="220.9" cy="942.1" r="2.75" fill="#1c1c1c"/>
<circle cx="228.3" cy="944.7" r="2.75" fill="#1c1c1c"/>
<line x1="272.10" y1="825.00" x2="272.10" y2="855.60" stroke="#000" stroke-width="1.0" stroke-opacity="0.42"/>
<line x1="266.85" y1="825.00" x2="277.35" y2="825.00" stroke="#000" stroke-width="1.0" stroke-opacity="0.42"/>
<line x1="266.85" y1="855.60" x2="277.35" y2="855.60" stroke="#000" stroke-width="1.0" stroke-opacity="0.42"/>
<circle cx="272.1" cy="825.0" r="2.75" fill="#1c1c1c"/>
<circle cx="272.1" cy="832.3" r="2.75" fill="#1c1c1c"/>
<circle cx="272.1" cy="845.2" r="2.75" fill="#1c1c1c"/>
<circle cx="272.1" cy="859.8" r="2.75" fill="#1c1c1c"/>
<line x1="302.30" y1="841.40" x2="302.30" y2="855.30" stroke="#000" stroke-width="1.0" stroke-opacity="0.42"/>
<line x1="297.05" y1="841.40" x2="307.55" y2="841.40" stroke="#000" stroke-width="1.0" stroke-opacity="0.42"/>
<line x1="297.05" y1="855.30" x2="307.55" y2="855.30" stroke="#000" stroke-width="1.0" stroke-opacity="0.42"/>
<circle cx="302.2" cy="839.2" r="2.75" fill="#1c1c1c"/>
<circle cx="302.2" cy="846.3" r="2.75" fill="#1c1c1c"/>
<circle cx="294.8" cy="854.7" r="2.75" fill="#1c1c1c"/>
<circle cx="309.6" cy="852.3" r="2.75" fill="#1c1c1c"/>
</svg></body></html>
